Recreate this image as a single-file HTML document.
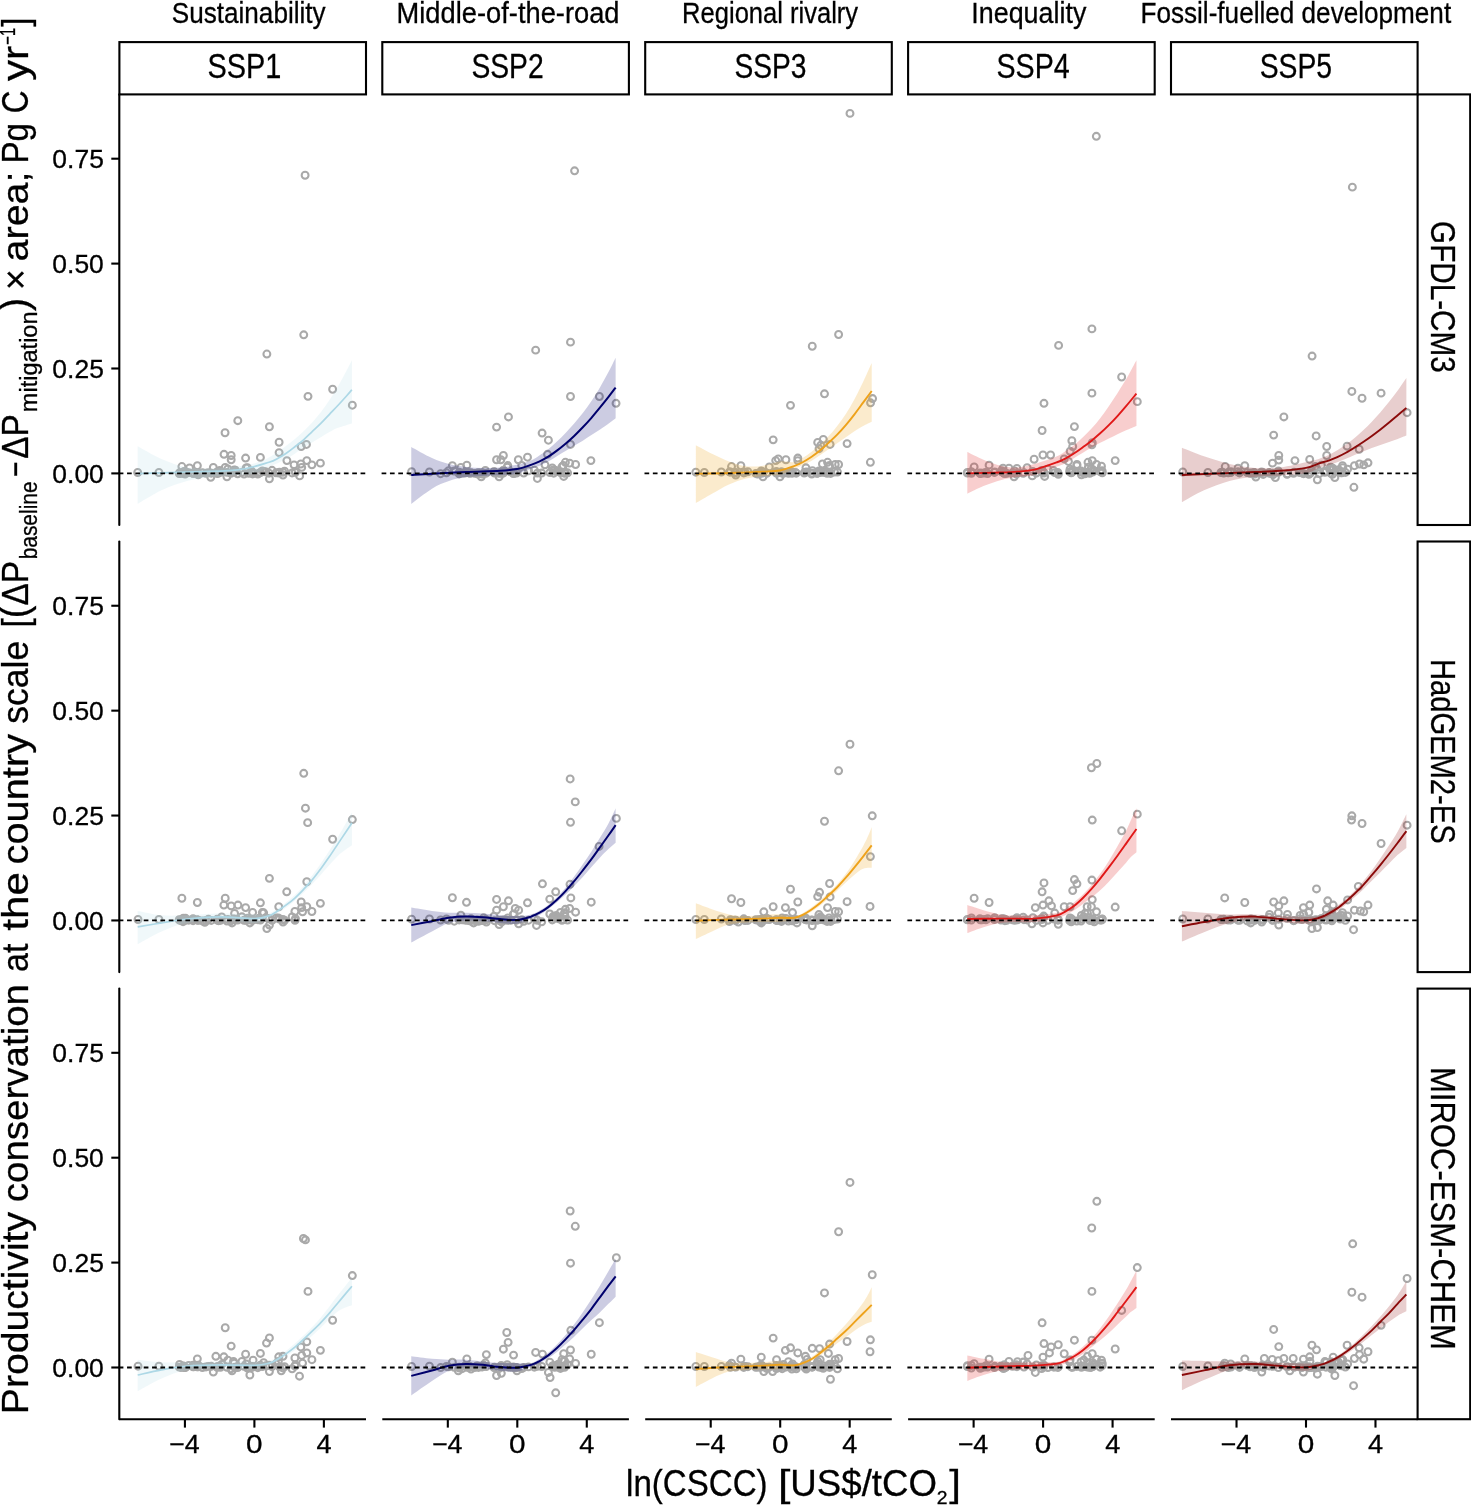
<!DOCTYPE html>
<html lang="en"><head><meta charset="utf-8"><title>Productivity conservation vs ln(CSCC)</title>
<style>html,body{margin:0;padding:0;background:#fff}svg{display:block;will-change:transform}text{font-family:"Liberation Sans",sans-serif;fill:#000;stroke:#000;stroke-width:0.3px}</style></head><body>
<svg width="1471" height="1505" viewBox="0 0 1471 1505">
<rect width="1471" height="1505" fill="#fff"/>
<g>
<g fill="none" stroke="#a9a9a9" stroke-width="2.05"><circle cx="305.1" cy="175.25" r="3.45"/><circle cx="303.74" cy="334.84" r="3.45"/><circle cx="266.86" cy="354.04" r="3.45"/><circle cx="332.63" cy="389.23" r="3.45"/><circle cx="307.99" cy="396.36" r="3.45"/><circle cx="352.34" cy="405.2" r="3.45"/><circle cx="237.8" cy="420.67" r="3.45"/><circle cx="269.41" cy="426.78" r="3.45"/><circle cx="225.05" cy="432.73" r="3.45"/><circle cx="279.1" cy="442.25" r="3.45"/><circle cx="306.46" cy="444.46" r="3.45"/><circle cx="301.19" cy="446.5" r="3.45"/><circle cx="279.1" cy="452.62" r="3.45"/><circle cx="224.03" cy="454.32" r="3.45"/><circle cx="231.17" cy="455.51" r="3.45"/><circle cx="231.17" cy="459.76" r="3.45"/><circle cx="245.61" cy="458.06" r="3.45"/><circle cx="260.4" cy="457.38" r="3.45"/><circle cx="286.91" cy="460.61" r="3.45"/><circle cx="306.8" cy="460.61" r="3.45"/><circle cx="320.39" cy="463.15" r="3.45"/><circle cx="311.9" cy="464.85" r="3.45"/><circle cx="300.85" cy="464" r="3.45"/><circle cx="294.05" cy="464.85" r="3.45"/><circle cx="301.7" cy="467.4" r="3.45"/><circle cx="181.88" cy="466.55" r="3.45"/><circle cx="189.53" cy="467.91" r="3.45"/><circle cx="197.35" cy="465.7" r="3.45"/><circle cx="213.32" cy="467.4" r="3.45"/><circle cx="225.22" cy="467.4" r="3.45"/><circle cx="137.69" cy="472.5" r="3.45"/><circle cx="158.94" cy="472.5" r="3.45"/><circle cx="210.77" cy="477.26" r="3.45"/><circle cx="226.92" cy="476.75" r="3.45"/><circle cx="269.41" cy="478.79" r="3.45"/><circle cx="299.66" cy="475.9" r="3.45"/><circle cx="283" cy="475.05" r="3.45"/><circle cx="221.7" cy="472.02" r="3.45"/><circle cx="198.05" cy="473.03" r="3.45"/><circle cx="260.4" cy="472.52" r="3.45"/><circle cx="185.59" cy="471.68" r="3.45"/><circle cx="247.37" cy="467.68" r="3.45"/><circle cx="226.99" cy="472.39" r="3.45"/><circle cx="183.05" cy="473.07" r="3.45"/><circle cx="244.06" cy="474.11" r="3.45"/><circle cx="179.2" cy="473.49" r="3.45"/><circle cx="235.31" cy="470.21" r="3.45"/><circle cx="185.15" cy="474.09" r="3.45"/><circle cx="188.67" cy="472.62" r="3.45"/><circle cx="234.21" cy="470.01" r="3.45"/><circle cx="279.46" cy="472.22" r="3.45"/><circle cx="193.95" cy="473.14" r="3.45"/><circle cx="208.39" cy="472.75" r="3.45"/><circle cx="257.78" cy="474.04" r="3.45"/><circle cx="292.09" cy="472.95" r="3.45"/><circle cx="252.09" cy="472.69" r="3.45"/><circle cx="230.82" cy="473.35" r="3.45"/><circle cx="295.02" cy="471.48" r="3.45"/><circle cx="180.95" cy="473.29" r="3.45"/><circle cx="282.8" cy="472.27" r="3.45"/><circle cx="217.28" cy="473.63" r="3.45"/><circle cx="197.07" cy="473.29" r="3.45"/><circle cx="193.02" cy="473.37" r="3.45"/><circle cx="219.73" cy="470.57" r="3.45"/><circle cx="278.33" cy="472.96" r="3.45"/><circle cx="202.42" cy="472.79" r="3.45"/><circle cx="252.61" cy="473.92" r="3.45"/><circle cx="259.06" cy="473.21" r="3.45"/><circle cx="227.82" cy="468.97" r="3.45"/><circle cx="248.74" cy="473.37" r="3.45"/><circle cx="183.91" cy="471.55" r="3.45"/><circle cx="183.34" cy="473.1" r="3.45"/><circle cx="205.99" cy="473.22" r="3.45"/><circle cx="263.66" cy="471.58" r="3.45"/><circle cx="234.58" cy="471.82" r="3.45"/><circle cx="220.46" cy="471.85" r="3.45"/><circle cx="253.06" cy="473.15" r="3.45"/><circle cx="237.66" cy="473.83" r="3.45"/><circle cx="218.61" cy="473.1" r="3.45"/><circle cx="276.01" cy="472.82" r="3.45"/><circle cx="265.7" cy="471.8" r="3.45"/><circle cx="211.24" cy="473.17" r="3.45"/><circle cx="251.79" cy="471.29" r="3.45"/><circle cx="246.13" cy="468.01" r="3.45"/><circle cx="284.55" cy="471.22" r="3.45"/><circle cx="269.02" cy="473.21" r="3.45"/><circle cx="217.06" cy="471.87" r="3.45"/><circle cx="295.42" cy="472.36" r="3.45"/><circle cx="193.06" cy="473.24" r="3.45"/><circle cx="233.44" cy="471.85" r="3.45"/><circle cx="272.02" cy="470.33" r="3.45"/><circle cx="198.22" cy="474.89" r="3.45"/><circle cx="241.9" cy="472.39" r="3.45"/><circle cx="179.54" cy="472.84" r="3.45"/><circle cx="262.31" cy="471.01" r="3.45"/></g>
<path d="M137.69,446.16C141.66,448.28 153.27,455.36 161.49,458.91C169.7,462.45 178.48,465.79 186.98,467.4C195.48,469.02 203.98,468.79 212.47,468.59C220.97,468.39 230.89,467.12 237.97,466.21C245.05,465.31 249.79,464.6 254.96,463.15C260.13,461.7 263.78,460.4 269,457.51C274.22,454.63 280.51,450.24 286.27,445.85C292.03,441.47 297.79,436.79 303.54,431.17C309.3,425.56 315.06,419.66 320.81,412.18C326.57,404.69 332.9,394.91 338.08,386.27C343.27,377.63 349.6,364.68 351.9,360.36L351.9,423.4C349.6,424.12 341.83,426.28 338.08,427.72C334.34,429.16 332.33,430.45 329.45,432.04C326.57,433.62 323.69,435.49 320.81,437.22C317.93,438.95 315.06,440.67 312.18,442.4C309.3,444.13 306.42,445.71 303.54,447.58C300.66,449.45 297.79,451.76 294.91,453.63C292.03,455.5 289.15,457.23 286.27,458.81C283.39,460.39 280.51,461.83 277.64,463.13C274.76,464.42 272.78,464.88 269,466.58C265.22,468.28 260.13,471.94 254.96,473.35C249.79,474.76 245.05,474.48 237.97,475.05C230.89,475.62 220.97,475.76 212.47,476.75C203.98,477.74 195.48,478.73 186.98,481C178.48,483.27 169.7,486.52 161.49,490.35C153.27,494.17 141.66,501.68 137.69,503.94Z" fill="#add8e6" fill-opacity="0.19"/>
<path d="M137.69,473.69C145.91,473.41 170.27,472.62 186.98,471.99C203.69,471.37 224.3,471.57 237.97,469.95C251.64,468.33 262.39,464.19 269,462.26C275.61,460.33 274.76,459.89 277.64,458.38C280.51,456.87 283.39,455.14 286.27,453.2C289.15,451.25 292.03,448.95 294.91,446.72C297.79,444.49 300.66,442.33 303.54,439.81C306.42,437.29 309.3,434.34 312.18,431.61C315.06,428.87 317.93,426.28 320.81,423.4C323.69,420.52 326.57,417.36 329.45,414.34C332.33,411.31 335.21,408.36 338.08,405.27C340.96,402.17 344.42,398.36 346.72,395.77C349.02,393.18 351.04,390.73 351.9,389.72" fill="none" stroke="#add8e6" stroke-width="1.7"/>
<line x1="118.7" y1="473.4" x2="366" y2="473.4" stroke="#000" stroke-width="1.8" stroke-dasharray="4.7 3.64"/>
</g>
<g>
<g fill="none" stroke="#a9a9a9" stroke-width="2.05"><circle cx="303.74" cy="773.34" r="3.45"/><circle cx="305.44" cy="808.18" r="3.45"/><circle cx="307.65" cy="822.63" r="3.45"/><circle cx="352.34" cy="819.57" r="3.45"/><circle cx="332.63" cy="839.28" r="3.45"/><circle cx="269.41" cy="878.37" r="3.45"/><circle cx="306.8" cy="881.77" r="3.45"/><circle cx="286.74" cy="891.8" r="3.45"/><circle cx="181.88" cy="898.26" r="3.45"/><circle cx="197.35" cy="902.51" r="3.45"/><circle cx="225.22" cy="898.26" r="3.45"/><circle cx="223.86" cy="905.06" r="3.45"/><circle cx="231.17" cy="905.91" r="3.45"/><circle cx="237.97" cy="905.06" r="3.45"/><circle cx="260.4" cy="902.85" r="3.45"/><circle cx="301.19" cy="902" r="3.45"/><circle cx="320.39" cy="903.36" r="3.45"/><circle cx="278.76" cy="906.76" r="3.45"/><circle cx="306.8" cy="906.76" r="3.45"/><circle cx="301.7" cy="907.61" r="3.45"/><circle cx="245.61" cy="907.61" r="3.45"/><circle cx="311.9" cy="911.51" r="3.45"/><circle cx="294.9" cy="911.51" r="3.45"/><circle cx="302.55" cy="911.85" r="3.45"/><circle cx="266.86" cy="928.51" r="3.45"/><circle cx="269.41" cy="925.11" r="3.45"/><circle cx="138.03" cy="919.5" r="3.45"/><circle cx="158.94" cy="919.5" r="3.45"/><circle cx="204.83" cy="922.39" r="3.45"/><circle cx="232.02" cy="922.9" r="3.45"/><circle cx="249.86" cy="922.9" r="3.45"/><circle cx="283" cy="922.05" r="3.45"/><circle cx="221.7" cy="917.03" r="3.45"/><circle cx="198.05" cy="920.31" r="3.45"/><circle cx="260.4" cy="920.02" r="3.45"/><circle cx="185.59" cy="918.31" r="3.45"/><circle cx="247.37" cy="918.2" r="3.45"/><circle cx="226.99" cy="921.12" r="3.45"/><circle cx="183.05" cy="921.67" r="3.45"/><circle cx="244.06" cy="920.26" r="3.45"/><circle cx="179.2" cy="919.66" r="3.45"/><circle cx="235.31" cy="919.74" r="3.45"/><circle cx="185.15" cy="920.34" r="3.45"/><circle cx="188.67" cy="920.17" r="3.45"/><circle cx="234.21" cy="919.04" r="3.45"/><circle cx="279.46" cy="919.09" r="3.45"/><circle cx="193.95" cy="919.76" r="3.45"/><circle cx="208.39" cy="919.31" r="3.45"/><circle cx="257.78" cy="919.71" r="3.45"/><circle cx="292.09" cy="916.92" r="3.45"/><circle cx="252.09" cy="919.46" r="3.45"/><circle cx="230.82" cy="920.82" r="3.45"/><circle cx="295.02" cy="920.37" r="3.45"/><circle cx="180.95" cy="920.28" r="3.45"/><circle cx="282.8" cy="919.41" r="3.45"/><circle cx="217.28" cy="920.21" r="3.45"/><circle cx="197.07" cy="919.8" r="3.45"/><circle cx="193.02" cy="918.77" r="3.45"/><circle cx="219.73" cy="919.9" r="3.45"/><circle cx="278.33" cy="917.88" r="3.45"/><circle cx="202.42" cy="920.96" r="3.45"/><circle cx="252.61" cy="912.41" r="3.45"/><circle cx="259.06" cy="918.28" r="3.45"/><circle cx="227.82" cy="919.39" r="3.45"/><circle cx="248.74" cy="919.91" r="3.45"/><circle cx="183.91" cy="920.16" r="3.45"/><circle cx="183.34" cy="918.18" r="3.45"/><circle cx="205.99" cy="920.54" r="3.45"/><circle cx="263.66" cy="912.8" r="3.45"/><circle cx="234.58" cy="913.47" r="3.45"/><circle cx="220.46" cy="920.38" r="3.45"/><circle cx="253.06" cy="920.04" r="3.45"/><circle cx="237.66" cy="920.14" r="3.45"/><circle cx="218.61" cy="920.7" r="3.45"/><circle cx="276.01" cy="917.96" r="3.45"/><circle cx="265.7" cy="917.62" r="3.45"/><circle cx="211.24" cy="920.43" r="3.45"/><circle cx="251.79" cy="920.43" r="3.45"/><circle cx="246.13" cy="920.24" r="3.45"/><circle cx="284.55" cy="920.34" r="3.45"/><circle cx="269.02" cy="918.76" r="3.45"/><circle cx="217.06" cy="919.33" r="3.45"/><circle cx="295.42" cy="918.77" r="3.45"/><circle cx="193.06" cy="920.65" r="3.45"/><circle cx="233.44" cy="919.12" r="3.45"/><circle cx="272.02" cy="920.36" r="3.45"/><circle cx="198.22" cy="920.12" r="3.45"/><circle cx="241.9" cy="916.81" r="3.45"/><circle cx="179.54" cy="920.15" r="3.45"/><circle cx="262.31" cy="912.57" r="3.45"/></g>
<path d="M137.69,911C141.66,911.71 153.27,914.54 161.49,915.25C169.7,915.96 177.07,915.54 186.98,915.25C196.89,914.97 209.64,913.69 220.97,913.55C232.3,913.41 246.96,914.4 254.96,914.4C262.97,914.41 263.78,915.59 269,913.58C274.22,911.57 280.51,906.96 286.27,902.35C292.03,897.75 297.79,892.42 303.54,885.95C309.3,879.47 315.06,871.7 320.81,863.49C326.57,855.29 332.9,845.22 338.08,836.72C343.27,828.23 349.6,816.57 351.9,812.54L351.9,845.36C349.6,847.09 343.27,850.83 338.08,855.72C332.9,860.62 326.57,868.53 320.81,874.72C315.06,880.91 309.3,887.39 303.54,892.85C297.79,898.32 292.03,903.43 286.27,907.54C280.51,911.64 274.22,914.91 269,917.47C263.78,920.03 262.97,922.42 254.96,922.9C246.96,923.38 232.3,920.35 220.97,920.35C209.64,920.35 196.89,921.06 186.98,922.9C177.07,924.74 169.7,927.86 161.49,931.4C153.27,934.94 141.66,942.02 137.69,944.14Z" fill="#add8e6" fill-opacity="0.19"/>
<path d="M137.69,926.81C141.66,926.16 153.27,924.2 161.49,922.9C169.7,921.6 177.07,919.98 186.98,918.99C196.89,918 209.64,917.01 220.97,916.95C232.3,916.9 246.96,918.85 254.96,918.65C262.97,918.45 265.22,917.02 269,915.74C272.78,914.46 274.76,912.79 277.64,910.99C280.51,909.19 283.39,907.1 286.27,904.94C289.15,902.79 292.03,900.63 294.91,898.04C297.79,895.45 300.66,892.42 303.54,889.4C306.42,886.38 309.3,883.36 312.18,879.9C315.06,876.45 317.93,872.56 320.81,868.68C323.69,864.79 326.57,860.76 329.45,856.59C332.33,852.41 335.21,847.95 338.08,843.63C340.96,839.31 344.42,834.13 346.72,830.68C349.02,827.22 351.04,824.2 351.9,822.91" fill="none" stroke="#add8e6" stroke-width="1.7"/>
<line x1="118.7" y1="920.45" x2="366" y2="920.45" stroke="#000" stroke-width="1.8" stroke-dasharray="4.7 3.64"/>
</g>
<g>
<g fill="none" stroke="#a9a9a9" stroke-width="2.05"><circle cx="303.4" cy="1238.53" r="3.45"/><circle cx="305.44" cy="1239.89" r="3.45"/><circle cx="352.34" cy="1275.58" r="3.45"/><circle cx="307.99" cy="1291.38" r="3.45"/><circle cx="332.63" cy="1320.27" r="3.45"/><circle cx="225.22" cy="1327.75" r="3.45"/><circle cx="269.41" cy="1337.95" r="3.45"/><circle cx="266.52" cy="1343.05" r="3.45"/><circle cx="231.17" cy="1346.11" r="3.45"/><circle cx="306.8" cy="1341.86" r="3.45"/><circle cx="300.85" cy="1346.96" r="3.45"/><circle cx="320.39" cy="1350.36" r="3.45"/><circle cx="306.8" cy="1352.91" r="3.45"/><circle cx="260.4" cy="1353.42" r="3.45"/><circle cx="245.61" cy="1354.27" r="3.45"/><circle cx="215.87" cy="1356.3" r="3.45"/><circle cx="223.86" cy="1356.81" r="3.45"/><circle cx="197.35" cy="1358.85" r="3.45"/><circle cx="301.7" cy="1355.45" r="3.45"/><circle cx="294.9" cy="1358" r="3.45"/><circle cx="311.9" cy="1359.7" r="3.45"/><circle cx="278.76" cy="1356.81" r="3.45"/><circle cx="283" cy="1356.3" r="3.45"/><circle cx="302.55" cy="1363.1" r="3.45"/><circle cx="299.49" cy="1376.19" r="3.45"/><circle cx="249.86" cy="1375" r="3.45"/><circle cx="213.32" cy="1372.11" r="3.45"/><circle cx="269.41" cy="1371.6" r="3.45"/><circle cx="281.3" cy="1370.75" r="3.45"/><circle cx="232.02" cy="1370.75" r="3.45"/><circle cx="138.03" cy="1366.16" r="3.45"/><circle cx="158.94" cy="1366.16" r="3.45"/><circle cx="221.7" cy="1364.39" r="3.45"/><circle cx="198.05" cy="1366.87" r="3.45"/><circle cx="260.4" cy="1365.34" r="3.45"/><circle cx="185.59" cy="1367.41" r="3.45"/><circle cx="247.37" cy="1367.97" r="3.45"/><circle cx="226.99" cy="1367.24" r="3.45"/><circle cx="183.05" cy="1366.17" r="3.45"/><circle cx="244.06" cy="1366.29" r="3.45"/><circle cx="179.2" cy="1367.11" r="3.45"/><circle cx="235.31" cy="1367.34" r="3.45"/><circle cx="185.15" cy="1367.46" r="3.45"/><circle cx="188.67" cy="1365.46" r="3.45"/><circle cx="234.21" cy="1363.23" r="3.45"/><circle cx="279.46" cy="1366.81" r="3.45"/><circle cx="193.95" cy="1366.65" r="3.45"/><circle cx="208.39" cy="1366.39" r="3.45"/><circle cx="257.78" cy="1367.7" r="3.45"/><circle cx="292.09" cy="1368.78" r="3.45"/><circle cx="252.09" cy="1366.54" r="3.45"/><circle cx="230.82" cy="1368.72" r="3.45"/><circle cx="295.02" cy="1366.18" r="3.45"/><circle cx="180.95" cy="1367.43" r="3.45"/><circle cx="282.8" cy="1367.91" r="3.45"/><circle cx="217.28" cy="1367.27" r="3.45"/><circle cx="197.07" cy="1366.83" r="3.45"/><circle cx="193.02" cy="1366.86" r="3.45"/><circle cx="219.73" cy="1366.11" r="3.45"/><circle cx="278.33" cy="1361.44" r="3.45"/><circle cx="202.42" cy="1367.59" r="3.45"/><circle cx="252.61" cy="1367.19" r="3.45"/><circle cx="259.06" cy="1366.41" r="3.45"/><circle cx="227.82" cy="1360.21" r="3.45"/><circle cx="248.74" cy="1367.28" r="3.45"/><circle cx="183.91" cy="1367.48" r="3.45"/><circle cx="183.34" cy="1365.88" r="3.45"/><circle cx="205.99" cy="1366.92" r="3.45"/><circle cx="263.66" cy="1362.76" r="3.45"/><circle cx="234.58" cy="1367.35" r="3.45"/><circle cx="220.46" cy="1367.36" r="3.45"/><circle cx="253.06" cy="1360.18" r="3.45"/><circle cx="237.66" cy="1367.51" r="3.45"/><circle cx="218.61" cy="1366.35" r="3.45"/><circle cx="276.01" cy="1363.9" r="3.45"/><circle cx="265.7" cy="1365.79" r="3.45"/><circle cx="211.24" cy="1366.3" r="3.45"/><circle cx="251.79" cy="1367.16" r="3.45"/><circle cx="246.13" cy="1363.96" r="3.45"/><circle cx="284.55" cy="1366.67" r="3.45"/><circle cx="269.02" cy="1365.33" r="3.45"/><circle cx="217.06" cy="1366.8" r="3.45"/><circle cx="295.42" cy="1364.82" r="3.45"/><circle cx="193.06" cy="1365.29" r="3.45"/><circle cx="233.44" cy="1361.53" r="3.45"/><circle cx="272.02" cy="1366.71" r="3.45"/><circle cx="198.22" cy="1365.16" r="3.45"/><circle cx="241.9" cy="1361.47" r="3.45"/><circle cx="179.54" cy="1364.5" r="3.45"/><circle cx="262.31" cy="1366.47" r="3.45"/></g>
<path d="M137.69,1359.7C141.66,1360.13 153.27,1361.83 161.49,1362.25C169.7,1362.68 177.07,1362.39 186.98,1362.25C196.89,1362.11 209.64,1361.54 220.97,1361.4C232.3,1361.26 246.96,1361.47 254.96,1361.4C262.97,1361.34 263.78,1362.8 269,1361.01C274.22,1359.22 280.51,1354.9 286.27,1350.65C292.03,1346.4 297.79,1341.08 303.54,1335.54C309.3,1330 315.06,1324.17 320.81,1317.4C326.57,1310.64 332.9,1301.57 338.08,1294.95C343.27,1288.33 349.6,1280.56 351.9,1277.68L351.9,1305.31C349.6,1306.32 343.27,1307.62 338.08,1311.36C332.9,1315.1 326.57,1322.44 320.81,1327.77C315.06,1333.09 309.3,1338.56 303.54,1343.31C297.79,1348.06 292.03,1352.66 286.27,1356.26C280.51,1359.86 274.22,1362.77 269,1364.9C263.78,1367.03 262.97,1368.5 254.96,1369.05C246.96,1369.6 232.3,1368.06 220.97,1368.2C209.64,1368.34 196.89,1368.2 186.98,1369.9C177.07,1371.6 169.7,1374.86 161.49,1378.4C153.27,1381.94 141.66,1389.02 137.69,1391.14Z" fill="#add8e6" fill-opacity="0.19"/>
<path d="M137.69,1375C141.66,1374.15 153.27,1371.4 161.49,1369.9C169.7,1368.4 177.07,1366.84 186.98,1365.99C196.89,1365.14 209.64,1364.92 220.97,1364.8C232.3,1364.69 246.96,1365.58 254.96,1365.31C262.97,1365.04 265.22,1364.18 269,1363.17C272.78,1362.17 274.76,1360.87 277.64,1359.28C280.51,1357.7 283.39,1355.69 286.27,1353.67C289.15,1351.66 292.03,1349.57 294.91,1347.2C297.79,1344.82 300.66,1342.09 303.54,1339.42C306.42,1336.76 309.3,1334.03 312.18,1331.22C315.06,1328.41 317.93,1325.61 320.81,1322.58C323.69,1319.56 326.57,1316.39 329.45,1313.08C332.33,1309.77 335.21,1306.18 338.08,1302.72C340.96,1299.27 344.42,1295.09 346.72,1292.36C349.02,1289.62 351.04,1287.32 351.9,1286.31" fill="none" stroke="#add8e6" stroke-width="1.7"/>
<line x1="118.7" y1="1367.5" x2="366" y2="1367.5" stroke="#000" stroke-width="1.8" stroke-dasharray="4.7 3.64"/>
</g>
<g>
<g fill="none" stroke="#a9a9a9" stroke-width="2.05"><circle cx="574.58" cy="170.84" r="3.45"/><circle cx="570.5" cy="342.15" r="3.45"/><circle cx="535.66" cy="350.14" r="3.45"/><circle cx="570.5" cy="396.53" r="3.45"/><circle cx="599.39" cy="396.53" r="3.45"/><circle cx="616.04" cy="403.33" r="3.45"/><circle cx="508.46" cy="416.93" r="3.45"/><circle cx="496.57" cy="427.12" r="3.45"/><circle cx="542.11" cy="433.07" r="3.45"/><circle cx="548.4" cy="440.21" r="3.45"/><circle cx="570.5" cy="444.46" r="3.45"/><circle cx="547.55" cy="454.32" r="3.45"/><circle cx="503.37" cy="455.51" r="3.45"/><circle cx="496.57" cy="459.76" r="3.45"/><circle cx="500.82" cy="459.76" r="3.45"/><circle cx="518.32" cy="459.76" r="3.45"/><circle cx="527.5" cy="457.21" r="3.45"/><circle cx="590.89" cy="460.61" r="3.45"/><circle cx="575.6" cy="464.51" r="3.45"/><circle cx="565.4" cy="462.3" r="3.45"/><circle cx="569.65" cy="463.15" r="3.45"/><circle cx="545" cy="464.85" r="3.45"/><circle cx="452.38" cy="465.7" r="3.45"/><circle cx="466.83" cy="465.19" r="3.45"/><circle cx="460.88" cy="467.4" r="3.45"/><circle cx="411.59" cy="471.65" r="3.45"/><circle cx="429.44" cy="471.99" r="3.45"/><circle cx="537.36" cy="478.45" r="3.45"/><circle cx="563.7" cy="476.41" r="3.45"/><circle cx="481.27" cy="476.75" r="3.45"/><circle cx="499.12" cy="476.75" r="3.45"/><circle cx="501.03" cy="472.17" r="3.45"/><circle cx="470.98" cy="472.8" r="3.45"/><circle cx="470.15" cy="473.36" r="3.45"/><circle cx="476.76" cy="473.14" r="3.45"/><circle cx="558.26" cy="471.35" r="3.45"/><circle cx="513.35" cy="473.51" r="3.45"/><circle cx="478.45" cy="472.68" r="3.45"/><circle cx="558.3" cy="471.64" r="3.45"/><circle cx="567.59" cy="472.8" r="3.45"/><circle cx="507.77" cy="465.56" r="3.45"/><circle cx="466.86" cy="472.23" r="3.45"/><circle cx="474.58" cy="473.38" r="3.45"/><circle cx="459.17" cy="472.32" r="3.45"/><circle cx="494.5" cy="473.11" r="3.45"/><circle cx="459.23" cy="473.92" r="3.45"/><circle cx="481.06" cy="472.87" r="3.45"/><circle cx="483.65" cy="473.18" r="3.45"/><circle cx="521.74" cy="465.49" r="3.45"/><circle cx="556.31" cy="471.59" r="3.45"/><circle cx="541.71" cy="473.06" r="3.45"/><circle cx="503.28" cy="473.2" r="3.45"/><circle cx="503.42" cy="470.19" r="3.45"/><circle cx="516.51" cy="472.98" r="3.45"/><circle cx="498.87" cy="473.34" r="3.45"/><circle cx="494.03" cy="471.42" r="3.45"/><circle cx="454.28" cy="471.01" r="3.45"/><circle cx="486.19" cy="473.2" r="3.45"/><circle cx="564.64" cy="473.37" r="3.45"/><circle cx="464.77" cy="473" r="3.45"/><circle cx="514.09" cy="473.4" r="3.45"/><circle cx="528.52" cy="470.73" r="3.45"/><circle cx="553.76" cy="473.17" r="3.45"/><circle cx="477.89" cy="474.12" r="3.45"/><circle cx="485.34" cy="470.43" r="3.45"/><circle cx="482.32" cy="474.03" r="3.45"/><circle cx="501.69" cy="473.12" r="3.45"/><circle cx="507.28" cy="467.3" r="3.45"/><circle cx="563.23" cy="465.59" r="3.45"/><circle cx="552.27" cy="467.94" r="3.45"/><circle cx="554.81" cy="470.17" r="3.45"/><circle cx="446.46" cy="472.77" r="3.45"/><circle cx="448.65" cy="470.75" r="3.45"/><circle cx="537.35" cy="473.12" r="3.45"/><circle cx="557.2" cy="471.05" r="3.45"/><circle cx="510.54" cy="471.77" r="3.45"/><circle cx="523.74" cy="473.01" r="3.45"/><circle cx="440.61" cy="473.7" r="3.45"/><circle cx="500.68" cy="473.12" r="3.45"/><circle cx="560.43" cy="472.62" r="3.45"/><circle cx="549.83" cy="472.61" r="3.45"/><circle cx="552.98" cy="470" r="3.45"/><circle cx="565.11" cy="472.32" r="3.45"/><circle cx="482.32" cy="473.27" r="3.45"/><circle cx="462.13" cy="473.06" r="3.45"/><circle cx="469.08" cy="472.94" r="3.45"/><circle cx="516.3" cy="472.15" r="3.45"/><circle cx="534.34" cy="470.17" r="3.45"/><circle cx="561.95" cy="466.8" r="3.45"/></g>
<path d="M411.25,447.01C414.71,448.85 425.7,455.22 431.99,458.06C438.27,460.89 443.32,462.53 448.98,464C454.65,465.48 460.31,466.24 465.98,466.89C471.64,467.54 477.31,467.83 482.97,467.91C488.64,468 494.3,467.91 499.97,467.4C505.63,466.89 511.79,466 516.96,464.85C522.13,463.71 527.22,462.12 531,460.54C534.78,458.95 536.76,457.23 539.64,455.35C542.51,453.48 545.39,451.61 548.27,449.31C551.15,447.01 554.03,444.27 556.91,441.54C559.79,438.8 562.66,435.92 565.54,432.9C568.42,429.88 571.3,426.71 574.18,423.4C577.06,420.09 579.93,416.78 582.81,413.04C585.69,409.3 588.57,405.27 591.45,400.95C594.33,396.63 597.21,392.03 600.08,387.13C602.96,382.24 606.13,376.48 608.72,371.59C611.31,366.7 614.48,360.07 615.63,357.77L615.63,418.22C614.48,419.08 611.31,421.53 608.72,423.4C606.13,425.27 602.96,427.5 600.08,429.45C597.21,431.39 594.33,433.19 591.45,435.06C588.57,436.93 585.69,438.87 582.81,440.67C579.93,442.47 577.06,444.13 574.18,445.85C571.3,447.58 568.42,449.31 565.54,451.04C562.66,452.76 559.79,454.49 556.91,456.22C554.03,457.94 551.15,459.82 548.27,461.4C545.39,462.98 542.51,464.49 539.64,465.72C536.76,466.94 534.78,467.41 531,468.74C527.22,470.07 522.13,472.64 516.96,473.69C511.79,474.74 505.63,474.68 499.97,475.05C494.3,475.42 488.64,475.56 482.97,475.9C477.31,476.24 471.64,476.24 465.98,477.09C460.31,477.94 454.65,479.07 448.98,481C443.32,482.93 438.27,484.82 431.99,488.65C425.7,492.47 414.71,501.39 411.25,503.94Z" fill="#00006c" fill-opacity="0.2"/>
<path d="M411.25,475.05C414.71,474.82 422.86,474.2 431.99,473.69C441.11,473.18 454.65,472.47 465.98,471.99C477.31,471.51 491.47,471.28 499.97,470.8C508.46,470.32 511.79,470.09 516.96,469.1C522.13,468.11 527.22,466.14 531,464.85C534.78,463.57 536.76,462.77 539.64,461.4C542.51,460.03 545.39,458.45 548.27,456.65C551.15,454.85 554.03,452.76 556.91,450.6C559.79,448.45 562.66,446.14 565.54,443.7C568.42,441.25 571.3,438.66 574.18,435.92C577.06,433.19 579.93,430.31 582.81,427.29C585.69,424.27 588.57,421.1 591.45,417.79C594.33,414.48 597.21,410.95 600.08,407.43C602.96,403.9 606.13,399.94 608.72,396.63C611.31,393.32 614.48,389.08 615.63,387.56" fill="none" stroke="#00006c" stroke-width="2.0"/>
<line x1="381.6" y1="473.4" x2="628.9" y2="473.4" stroke="#000" stroke-width="1.8" stroke-dasharray="4.7 3.64"/>
</g>
<g>
<g fill="none" stroke="#a9a9a9" stroke-width="2.05"><circle cx="570.16" cy="778.95" r="3.45"/><circle cx="575.26" cy="801.89" r="3.45"/><circle cx="570.5" cy="822.29" r="3.45"/><circle cx="616.38" cy="818.38" r="3.45"/><circle cx="599.05" cy="846.42" r="3.45"/><circle cx="542.45" cy="883.81" r="3.45"/><circle cx="569.99" cy="884.32" r="3.45"/><circle cx="555.71" cy="891.8" r="3.45"/><circle cx="452.38" cy="897.75" r="3.45"/><circle cx="466.49" cy="902.34" r="3.45"/><circle cx="496.57" cy="899.45" r="3.45"/><circle cx="508.46" cy="900.81" r="3.45"/><circle cx="527.5" cy="902.85" r="3.45"/><circle cx="549.76" cy="899.11" r="3.45"/><circle cx="570.84" cy="897.92" r="3.45"/><circle cx="591.23" cy="902.17" r="3.45"/><circle cx="503.37" cy="906.76" r="3.45"/><circle cx="496.57" cy="910.15" r="3.45"/><circle cx="515.26" cy="908.45" r="3.45"/><circle cx="518.66" cy="910.15" r="3.45"/><circle cx="569.65" cy="908.45" r="3.45"/><circle cx="565.4" cy="909.3" r="3.45"/><circle cx="575.6" cy="912.19" r="3.45"/><circle cx="564.55" cy="912.7" r="3.45"/><circle cx="411.59" cy="919.16" r="3.45"/><circle cx="429.44" cy="918.99" r="3.45"/><circle cx="473.62" cy="922.9" r="3.45"/><circle cx="486.37" cy="922.05" r="3.45"/><circle cx="499.12" cy="924.6" r="3.45"/><circle cx="518.66" cy="923.75" r="3.45"/><circle cx="536.51" cy="925.45" r="3.45"/><circle cx="460.88" cy="915.25" r="3.45"/><circle cx="501.03" cy="921.18" r="3.45"/><circle cx="470.98" cy="918.84" r="3.45"/><circle cx="470.15" cy="920.9" r="3.45"/><circle cx="476.76" cy="920.32" r="3.45"/><circle cx="558.26" cy="917.51" r="3.45"/><circle cx="513.35" cy="914.11" r="3.45"/><circle cx="478.45" cy="921.36" r="3.45"/><circle cx="558.3" cy="918.65" r="3.45"/><circle cx="567.59" cy="920.11" r="3.45"/><circle cx="507.77" cy="917.9" r="3.45"/><circle cx="466.86" cy="920.23" r="3.45"/><circle cx="474.58" cy="920.61" r="3.45"/><circle cx="459.17" cy="919.96" r="3.45"/><circle cx="494.5" cy="920.7" r="3.45"/><circle cx="459.23" cy="919.31" r="3.45"/><circle cx="481.06" cy="920.12" r="3.45"/><circle cx="483.65" cy="917.81" r="3.45"/><circle cx="521.74" cy="919.64" r="3.45"/><circle cx="556.31" cy="915.5" r="3.45"/><circle cx="541.71" cy="921.83" r="3.45"/><circle cx="503.28" cy="919.91" r="3.45"/><circle cx="503.42" cy="920.33" r="3.45"/><circle cx="516.51" cy="919.67" r="3.45"/><circle cx="498.87" cy="920.36" r="3.45"/><circle cx="494.03" cy="916.2" r="3.45"/><circle cx="454.28" cy="921.2" r="3.45"/><circle cx="486.19" cy="919.42" r="3.45"/><circle cx="564.64" cy="914" r="3.45"/><circle cx="464.77" cy="919.97" r="3.45"/><circle cx="514.09" cy="914.04" r="3.45"/><circle cx="528.52" cy="920.2" r="3.45"/><circle cx="553.76" cy="917.19" r="3.45"/><circle cx="477.89" cy="919.98" r="3.45"/><circle cx="485.34" cy="920.17" r="3.45"/><circle cx="482.32" cy="920.41" r="3.45"/><circle cx="501.69" cy="921.73" r="3.45"/><circle cx="507.28" cy="920.33" r="3.45"/><circle cx="563.23" cy="919.49" r="3.45"/><circle cx="552.27" cy="919.91" r="3.45"/><circle cx="554.81" cy="917.18" r="3.45"/><circle cx="446.46" cy="919.01" r="3.45"/><circle cx="448.65" cy="920.25" r="3.45"/><circle cx="537.35" cy="920.34" r="3.45"/><circle cx="557.2" cy="917.65" r="3.45"/><circle cx="510.54" cy="920.37" r="3.45"/><circle cx="523.74" cy="921.22" r="3.45"/><circle cx="440.61" cy="919.98" r="3.45"/><circle cx="500.68" cy="920.31" r="3.45"/><circle cx="560.43" cy="912.44" r="3.45"/><circle cx="549.83" cy="914.02" r="3.45"/><circle cx="552.98" cy="916.57" r="3.45"/><circle cx="565.11" cy="916.35" r="3.45"/><circle cx="482.32" cy="920.22" r="3.45"/><circle cx="462.13" cy="919.76" r="3.45"/><circle cx="469.08" cy="920.41" r="3.45"/><circle cx="516.3" cy="920.28" r="3.45"/><circle cx="534.34" cy="918.38" r="3.45"/><circle cx="561.95" cy="920.33" r="3.45"/></g>
<path d="M411.25,907.61C414.71,908.17 425.7,910.15 431.99,911C438.27,911.85 443.32,912.42 448.98,912.7C454.65,912.99 460.31,912.56 465.98,912.7C471.64,912.85 477.31,913.13 482.97,913.55C488.64,913.98 494.3,914.83 499.97,915.25C505.63,915.68 511.79,916.24 516.96,916.1C522.13,915.97 527.22,915.37 531,914.44C534.78,913.52 536.76,912.14 539.64,910.56C542.51,908.97 545.39,907.18 548.27,904.94C551.15,902.71 554.03,900.05 556.91,897.17C559.79,894.29 562.66,891.13 565.54,887.67C568.42,884.22 571.3,880.33 574.18,876.45C577.06,872.56 579.93,868.53 582.81,864.36C585.69,860.18 588.57,855.87 591.45,851.4C594.33,846.94 597.21,842.34 600.08,837.59C602.96,832.84 606.13,827.8 608.72,822.91C611.31,818.01 614.48,810.67 615.63,808.23L615.63,842.77C614.48,843.78 611.31,846.37 608.72,848.81C606.13,851.26 602.96,854.43 600.08,857.45C597.21,860.47 594.33,863.71 591.45,866.95C588.57,870.19 585.69,873.71 582.81,876.88C579.93,880.05 577.06,883 574.18,885.95C571.3,888.9 568.42,891.85 565.54,894.58C562.66,897.32 559.79,899.91 556.91,902.35C554.03,904.8 551.15,907.18 548.27,909.26C545.39,911.35 542.51,913.29 539.64,914.88C536.76,916.46 534.78,917.28 531,918.76C527.22,920.24 522.13,923.06 516.96,923.75C511.79,924.44 505.63,923.33 499.97,922.9C494.3,922.48 488.64,921.57 482.97,921.2C477.31,920.83 471.64,920.41 465.98,920.69C460.31,920.97 454.65,921.12 448.98,922.9C443.32,924.69 438.27,928.14 431.99,931.4C425.7,934.66 414.71,940.6 411.25,942.45Z" fill="#00006c" fill-opacity="0.2"/>
<path d="M411.25,925.11C414.71,924.46 425.7,922.42 431.99,921.2C438.27,919.98 443.32,918.57 448.98,917.8C454.65,917.04 460.31,916.7 465.98,916.61C471.64,916.53 477.31,916.9 482.97,917.29C488.64,917.69 494.3,918.54 499.97,918.99C505.63,919.45 511.79,920.41 516.96,920.01C522.13,919.61 527.22,917.82 531,916.6C534.78,915.39 536.76,914.3 539.64,912.72C542.51,911.13 545.39,909.26 548.27,907.1C551.15,904.94 554.03,902.43 556.91,899.76C559.79,897.1 562.66,894.22 565.54,891.13C568.42,888.03 571.3,884.65 574.18,881.2C577.06,877.74 579.93,874.07 582.81,870.4C585.69,866.73 588.57,863.06 591.45,859.18C594.33,855.29 597.21,851.12 600.08,847.09C602.96,843.06 606.13,838.67 608.72,835C611.31,831.33 614.48,826.72 615.63,825.07" fill="none" stroke="#00006c" stroke-width="2.0"/>
<line x1="381.6" y1="920.45" x2="628.9" y2="920.45" stroke="#000" stroke-width="1.8" stroke-dasharray="4.7 3.64"/>
</g>
<g>
<g fill="none" stroke="#a9a9a9" stroke-width="2.05"><circle cx="570.16" cy="1211" r="3.45"/><circle cx="575.26" cy="1226.29" r="3.45"/><circle cx="616.38" cy="1257.73" r="3.45"/><circle cx="570.5" cy="1263.17" r="3.45"/><circle cx="599.39" cy="1322.65" r="3.45"/><circle cx="506.76" cy="1332.51" r="3.45"/><circle cx="570.84" cy="1330.3" r="3.45"/><circle cx="508.12" cy="1342.37" r="3.45"/><circle cx="503.37" cy="1349.17" r="3.45"/><circle cx="486.37" cy="1354.61" r="3.45"/><circle cx="535.66" cy="1352.4" r="3.45"/><circle cx="542.45" cy="1354.1" r="3.45"/><circle cx="513.56" cy="1355.11" r="3.45"/><circle cx="570.5" cy="1350.02" r="3.45"/><circle cx="563.7" cy="1353.76" r="3.45"/><circle cx="591.23" cy="1354.27" r="3.45"/><circle cx="569.65" cy="1358.85" r="3.45"/><circle cx="562" cy="1359.7" r="3.45"/><circle cx="575.6" cy="1363.44" r="3.45"/><circle cx="466.83" cy="1358.85" r="3.45"/><circle cx="452.38" cy="1362.25" r="3.45"/><circle cx="458.33" cy="1370.75" r="3.45"/><circle cx="496.57" cy="1375.51" r="3.45"/><circle cx="501.33" cy="1373.3" r="3.45"/><circle cx="516.96" cy="1370.75" r="3.45"/><circle cx="550.1" cy="1377.55" r="3.45"/><circle cx="548.4" cy="1372.45" r="3.45"/><circle cx="555.71" cy="1392.84" r="3.45"/><circle cx="411.59" cy="1366.5" r="3.45"/><circle cx="429.44" cy="1366.16" r="3.45"/><circle cx="564.55" cy="1367.35" r="3.45"/><circle cx="501.03" cy="1365.59" r="3.45"/><circle cx="470.98" cy="1369.02" r="3.45"/><circle cx="470.15" cy="1366.54" r="3.45"/><circle cx="476.76" cy="1365.98" r="3.45"/><circle cx="558.26" cy="1364.2" r="3.45"/><circle cx="513.35" cy="1366.93" r="3.45"/><circle cx="478.45" cy="1367.45" r="3.45"/><circle cx="558.3" cy="1367.21" r="3.45"/><circle cx="567.59" cy="1364.61" r="3.45"/><circle cx="507.77" cy="1366.95" r="3.45"/><circle cx="466.86" cy="1367.36" r="3.45"/><circle cx="474.58" cy="1367.5" r="3.45"/><circle cx="459.17" cy="1368.05" r="3.45"/><circle cx="494.5" cy="1367.25" r="3.45"/><circle cx="459.23" cy="1367.27" r="3.45"/><circle cx="481.06" cy="1366.87" r="3.45"/><circle cx="483.65" cy="1365.06" r="3.45"/><circle cx="521.74" cy="1368.48" r="3.45"/><circle cx="556.31" cy="1365.55" r="3.45"/><circle cx="541.71" cy="1366.5" r="3.45"/><circle cx="503.28" cy="1366.5" r="3.45"/><circle cx="503.42" cy="1366.23" r="3.45"/><circle cx="516.51" cy="1367.46" r="3.45"/><circle cx="498.87" cy="1368.69" r="3.45"/><circle cx="494.03" cy="1367.49" r="3.45"/><circle cx="454.28" cy="1367.35" r="3.45"/><circle cx="486.19" cy="1366.59" r="3.45"/><circle cx="564.64" cy="1361.27" r="3.45"/><circle cx="464.77" cy="1366.05" r="3.45"/><circle cx="514.09" cy="1367.49" r="3.45"/><circle cx="528.52" cy="1366.89" r="3.45"/><circle cx="553.76" cy="1366.43" r="3.45"/><circle cx="477.89" cy="1366.18" r="3.45"/><circle cx="485.34" cy="1362.98" r="3.45"/><circle cx="482.32" cy="1366.94" r="3.45"/><circle cx="501.69" cy="1366.78" r="3.45"/><circle cx="507.28" cy="1364.69" r="3.45"/><circle cx="563.23" cy="1361.43" r="3.45"/><circle cx="552.27" cy="1366.19" r="3.45"/><circle cx="554.81" cy="1367.23" r="3.45"/><circle cx="446.46" cy="1366.44" r="3.45"/><circle cx="448.65" cy="1366.88" r="3.45"/><circle cx="537.35" cy="1366.35" r="3.45"/><circle cx="557.2" cy="1365.77" r="3.45"/><circle cx="510.54" cy="1367.28" r="3.45"/><circle cx="523.74" cy="1367.39" r="3.45"/><circle cx="440.61" cy="1367.56" r="3.45"/><circle cx="500.68" cy="1366.36" r="3.45"/><circle cx="560.43" cy="1368.4" r="3.45"/><circle cx="549.83" cy="1362.21" r="3.45"/><circle cx="552.98" cy="1365.68" r="3.45"/><circle cx="565.11" cy="1365.74" r="3.45"/><circle cx="482.32" cy="1366.53" r="3.45"/><circle cx="462.13" cy="1368.66" r="3.45"/><circle cx="469.08" cy="1367.27" r="3.45"/><circle cx="516.3" cy="1367.89" r="3.45"/><circle cx="534.34" cy="1367.17" r="3.45"/><circle cx="561.95" cy="1367.12" r="3.45"/></g>
<path d="M411.25,1356.3C414.71,1356.73 425.7,1358.29 431.99,1358.85C438.27,1359.42 443.32,1359.56 448.98,1359.7C454.65,1359.85 460.31,1359.42 465.98,1359.7C471.64,1359.99 477.31,1360.84 482.97,1361.4C488.64,1361.97 494.3,1362.82 499.97,1363.1C505.63,1363.39 511.79,1363.09 516.96,1363.1C522.13,1363.11 527.22,1363.88 531,1363.17C534.78,1362.46 536.76,1360.58 539.64,1358.85C542.51,1357.13 545.39,1355.18 548.27,1352.81C551.15,1350.43 554.03,1347.55 556.91,1344.6C559.79,1341.65 562.66,1338.49 565.54,1335.11C568.42,1331.72 571.3,1328.12 574.18,1324.31C577.06,1320.5 579.93,1316.39 582.81,1312.22C585.69,1308.05 588.57,1303.73 591.45,1299.27C594.33,1294.81 597.21,1290.2 600.08,1285.45C602.96,1280.7 606.13,1275.23 608.72,1270.77C611.31,1266.31 614.48,1260.7 615.63,1258.68L615.63,1296.68C614.48,1297.83 611.31,1300.99 608.72,1303.59C606.13,1306.18 602.96,1309.49 600.08,1312.22C597.21,1314.96 594.33,1317.33 591.45,1319.99C588.57,1322.66 585.69,1325.39 582.81,1328.2C579.93,1331 577.06,1334.1 574.18,1336.83C571.3,1339.57 568.42,1342.09 565.54,1344.6C562.66,1347.12 559.79,1349.71 556.91,1351.94C554.03,1354.18 551.15,1356.12 548.27,1357.99C545.39,1359.86 542.51,1361.73 539.64,1363.17C536.76,1364.61 534.78,1365.22 531,1366.63C527.22,1368.03 522.13,1370.91 516.96,1371.6C511.79,1372.29 505.63,1371.32 499.97,1370.75C494.3,1370.18 488.64,1368.77 482.97,1368.2C477.31,1367.63 471.64,1366.93 465.98,1367.35C460.31,1367.78 454.65,1368.48 448.98,1370.75C443.32,1373.02 438.27,1376.84 431.99,1380.95C425.7,1385.05 414.71,1392.99 411.25,1395.39Z" fill="#00006c" fill-opacity="0.2"/>
<path d="M411.25,1375.85C414.71,1374.94 425.7,1372.11 431.99,1370.41C438.27,1368.71 443.32,1366.73 448.98,1365.65C454.65,1364.58 460.31,1364.09 465.98,1363.95C471.64,1363.81 477.31,1364.29 482.97,1364.8C488.64,1365.31 494.3,1366.53 499.97,1367.01C505.63,1367.49 511.79,1368.04 516.96,1367.69C522.13,1367.34 527.22,1366.01 531,1364.9C534.78,1363.78 536.76,1362.6 539.64,1361.01C542.51,1359.43 545.39,1357.56 548.27,1355.4C551.15,1353.24 554.03,1350.72 556.91,1348.06C559.79,1345.4 562.66,1342.45 565.54,1339.42C568.42,1336.4 571.3,1333.23 574.18,1329.92C577.06,1326.61 579.93,1323.09 582.81,1319.56C585.69,1316.04 588.57,1312.51 591.45,1308.77C594.33,1305.02 597.21,1300.99 600.08,1297.11C602.96,1293.22 606.13,1288.91 608.72,1285.45C611.31,1282 614.48,1277.89 615.63,1276.38" fill="none" stroke="#00006c" stroke-width="2.0"/>
<line x1="381.6" y1="1367.5" x2="628.9" y2="1367.5" stroke="#000" stroke-width="1.8" stroke-dasharray="4.7 3.64"/>
</g>
<g>
<g fill="none" stroke="#a9a9a9" stroke-width="2.05"><circle cx="849.98" cy="113.39" r="3.45"/><circle cx="838.6" cy="334.5" r="3.45"/><circle cx="812.25" cy="346.23" r="3.45"/><circle cx="824.49" cy="393.81" r="3.45"/><circle cx="790.5" cy="405.37" r="3.45"/><circle cx="872.59" cy="398.57" r="3.45"/><circle cx="870.55" cy="402.82" r="3.45"/><circle cx="773.16" cy="439.87" r="3.45"/><circle cx="823.3" cy="439.36" r="3.45"/><circle cx="817.69" cy="442.42" r="3.45"/><circle cx="820.75" cy="445.31" r="3.45"/><circle cx="819.05" cy="448.71" r="3.45"/><circle cx="830.1" cy="444.46" r="3.45"/><circle cx="847.09" cy="443.61" r="3.45"/><circle cx="870.38" cy="462.3" r="3.45"/><circle cx="778.26" cy="458.91" r="3.45"/><circle cx="775.71" cy="460.61" r="3.45"/><circle cx="785.91" cy="459.76" r="3.45"/><circle cx="797.81" cy="458.06" r="3.45"/><circle cx="797.81" cy="460.61" r="3.45"/><circle cx="731.53" cy="466.55" r="3.45"/><circle cx="740.87" cy="465.7" r="3.45"/><circle cx="827.55" cy="462.3" r="3.45"/><circle cx="822.45" cy="464" r="3.45"/><circle cx="835.2" cy="464.51" r="3.45"/><circle cx="838.6" cy="464.51" r="3.45"/><circle cx="695.84" cy="472.16" r="3.45"/><circle cx="704.33" cy="472.5" r="3.45"/><circle cx="721.33" cy="471.99" r="3.45"/><circle cx="762.97" cy="476.75" r="3.45"/><circle cx="779.96" cy="476.75" r="3.45"/><circle cx="735.77" cy="475.05" r="3.45"/><circle cx="804.17" cy="473.01" r="3.45"/><circle cx="735.83" cy="472.35" r="3.45"/><circle cx="783.42" cy="473.22" r="3.45"/><circle cx="785.89" cy="472.56" r="3.45"/><circle cx="818.88" cy="470.94" r="3.45"/><circle cx="776.32" cy="471.38" r="3.45"/><circle cx="812.46" cy="470.72" r="3.45"/><circle cx="796.24" cy="473.19" r="3.45"/><circle cx="761.46" cy="473.29" r="3.45"/><circle cx="827.09" cy="473.29" r="3.45"/><circle cx="745.2" cy="472.13" r="3.45"/><circle cx="823.21" cy="471.72" r="3.45"/><circle cx="755.79" cy="473.37" r="3.45"/><circle cx="729.52" cy="471.91" r="3.45"/><circle cx="759.71" cy="472.72" r="3.45"/><circle cx="817.87" cy="472.79" r="3.45"/><circle cx="837.48" cy="472.11" r="3.45"/><circle cx="730.4" cy="472.08" r="3.45"/><circle cx="791.49" cy="473.14" r="3.45"/><circle cx="791.56" cy="471.98" r="3.45"/><circle cx="821.09" cy="472.3" r="3.45"/><circle cx="757.56" cy="474.04" r="3.45"/><circle cx="791.87" cy="471.95" r="3.45"/><circle cx="776.37" cy="473.12" r="3.45"/><circle cx="824.32" cy="472.46" r="3.45"/><circle cx="766.65" cy="473.2" r="3.45"/><circle cx="834.46" cy="471.97" r="3.45"/><circle cx="769.3" cy="467.02" r="3.45"/><circle cx="761.24" cy="470.92" r="3.45"/><circle cx="811.97" cy="473.29" r="3.45"/><circle cx="792.25" cy="472.19" r="3.45"/><circle cx="747.86" cy="471.74" r="3.45"/><circle cx="805.94" cy="467.82" r="3.45"/><circle cx="743.75" cy="472.91" r="3.45"/><circle cx="820.27" cy="472.11" r="3.45"/><circle cx="811.75" cy="474.04" r="3.45"/><circle cx="820.18" cy="471.91" r="3.45"/><circle cx="805.11" cy="472.1" r="3.45"/><circle cx="777.29" cy="473.16" r="3.45"/><circle cx="782.19" cy="473.17" r="3.45"/><circle cx="781.48" cy="471.83" r="3.45"/><circle cx="829.65" cy="472.6" r="3.45"/><circle cx="744.52" cy="472.41" r="3.45"/><circle cx="829.47" cy="465.38" r="3.45"/><circle cx="734.78" cy="472.97" r="3.45"/><circle cx="760.2" cy="473.09" r="3.45"/><circle cx="766.95" cy="473.11" r="3.45"/><circle cx="830.63" cy="473.46" r="3.45"/><circle cx="792.54" cy="473.05" r="3.45"/><circle cx="779.84" cy="472.42" r="3.45"/><circle cx="829.07" cy="466.65" r="3.45"/><circle cx="763.49" cy="471.94" r="3.45"/><circle cx="788.42" cy="473.31" r="3.45"/><circle cx="795.61" cy="472.57" r="3.45"/><circle cx="817.15" cy="473.25" r="3.45"/><circle cx="817.01" cy="472.98" r="3.45"/><circle cx="806.89" cy="471.91" r="3.45"/><circle cx="776.51" cy="472.49" r="3.45"/></g>
<path d="M695.84,445.31C698.53,446.73 706.46,451.12 711.98,453.81C717.5,456.5 723.31,459.39 728.98,461.45C734.64,463.52 740.31,465.51 745.97,466.21C751.64,466.92 757.3,466.5 762.97,465.7C768.63,464.91 774.79,462.03 779.96,461.45C785.13,460.88 790.22,462.85 794,462.26C797.78,461.68 799.76,459.67 802.64,457.94C805.51,456.22 808.39,454.06 811.27,451.9C814.15,449.74 817.03,447.58 819.91,444.99C822.79,442.4 825.66,439.52 828.54,436.36C831.42,433.19 834.3,429.74 837.18,425.99C840.06,422.25 842.93,418.36 845.81,413.9C848.69,409.44 851.57,404.55 854.45,399.22C857.33,393.9 860.93,386.41 863.08,381.95C865.24,377.49 865.96,375.62 867.4,372.45C868.84,369.29 871,364.54 871.72,362.95L871.72,421.68C870.28,422.39 865.96,424.41 863.08,425.99C860.21,427.58 857.33,429.3 854.45,431.17C851.57,433.05 848.69,435.2 845.81,437.22C842.93,439.23 840.06,441.25 837.18,443.26C834.3,445.28 831.42,447.29 828.54,449.31C825.66,451.32 822.79,453.41 819.91,455.35C817.03,457.3 814.15,459.31 811.27,460.97C808.39,462.62 805.51,463.99 802.64,465.28C799.76,466.58 797.78,467.17 794,468.74C790.22,470.31 785.13,473.52 779.96,474.71C774.79,475.9 768.63,475.28 762.97,475.9C757.3,476.52 751.64,477.03 745.97,478.45C740.31,479.87 734.64,481.85 728.98,484.4C723.31,486.95 717.5,490.63 711.98,493.75C706.46,496.86 698.53,501.54 695.84,503.09Z" fill="#eea21b" fill-opacity="0.22"/>
<path d="M695.84,473.69C701.36,473.58 717.79,473.35 728.98,473.01C740.16,472.67 754.47,472.08 762.97,471.65C771.46,471.23 774.79,471.38 779.96,470.46C785.13,469.55 790.22,467.52 794,466.15C797.78,464.78 799.76,463.77 802.64,462.26C805.51,460.75 808.39,459.02 811.27,457.08C814.15,455.14 817.03,452.98 819.91,450.6C822.79,448.23 825.66,445.5 828.54,442.83C831.42,440.17 834.3,437.58 837.18,434.63C840.06,431.68 842.93,428.51 845.81,425.13C848.69,421.75 851.57,418.08 854.45,414.34C857.33,410.59 860.21,406.56 863.08,402.68C865.96,398.79 870.28,392.96 871.72,391.02" fill="none" stroke="#eea21b" stroke-width="1.9"/>
<line x1="644.5" y1="473.4" x2="891.8" y2="473.4" stroke="#000" stroke-width="1.8" stroke-dasharray="4.7 3.64"/>
</g>
<g>
<g fill="none" stroke="#a9a9a9" stroke-width="2.05"><circle cx="849.98" cy="744.28" r="3.45"/><circle cx="838.6" cy="770.79" r="3.45"/><circle cx="872.25" cy="815.83" r="3.45"/><circle cx="824.49" cy="821.27" r="3.45"/><circle cx="870.38" cy="856.62" r="3.45"/><circle cx="829.59" cy="883.47" r="3.45"/><circle cx="790.5" cy="889.25" r="3.45"/><circle cx="819.56" cy="892.31" r="3.45"/><circle cx="817.69" cy="896.56" r="3.45"/><circle cx="830.1" cy="896.9" r="3.45"/><circle cx="731.53" cy="898.77" r="3.45"/><circle cx="740.87" cy="902.51" r="3.45"/><circle cx="797.81" cy="902" r="3.45"/><circle cx="847.09" cy="901.66" r="3.45"/><circle cx="870.04" cy="906.42" r="3.45"/><circle cx="773.16" cy="906.76" r="3.45"/><circle cx="785.4" cy="907.61" r="3.45"/><circle cx="763.82" cy="911.85" r="3.45"/><circle cx="827.55" cy="907.61" r="3.45"/><circle cx="835.2" cy="911.51" r="3.45"/><circle cx="838.6" cy="911.85" r="3.45"/><circle cx="812.25" cy="925.79" r="3.45"/><circle cx="796.96" cy="922.9" r="3.45"/><circle cx="695.84" cy="919.5" r="3.45"/><circle cx="704.33" cy="919.5" r="3.45"/><circle cx="721.33" cy="918.99" r="3.45"/><circle cx="761.27" cy="922.9" r="3.45"/><circle cx="738.32" cy="922.05" r="3.45"/><circle cx="804.17" cy="918.39" r="3.45"/><circle cx="735.83" cy="920.23" r="3.45"/><circle cx="783.42" cy="919.71" r="3.45"/><circle cx="785.89" cy="918.54" r="3.45"/><circle cx="818.88" cy="914.55" r="3.45"/><circle cx="776.32" cy="919.78" r="3.45"/><circle cx="812.46" cy="920.44" r="3.45"/><circle cx="796.24" cy="919.65" r="3.45"/><circle cx="761.46" cy="919.99" r="3.45"/><circle cx="827.09" cy="921.42" r="3.45"/><circle cx="745.2" cy="920.42" r="3.45"/><circle cx="823.21" cy="919.34" r="3.45"/><circle cx="755.79" cy="919.75" r="3.45"/><circle cx="729.52" cy="921.55" r="3.45"/><circle cx="759.71" cy="919.5" r="3.45"/><circle cx="817.87" cy="918.61" r="3.45"/><circle cx="837.48" cy="919.05" r="3.45"/><circle cx="730.4" cy="919.66" r="3.45"/><circle cx="791.49" cy="920.11" r="3.45"/><circle cx="791.56" cy="919.77" r="3.45"/><circle cx="821.09" cy="917.48" r="3.45"/><circle cx="757.56" cy="920.08" r="3.45"/><circle cx="791.87" cy="919.59" r="3.45"/><circle cx="776.37" cy="920.41" r="3.45"/><circle cx="824.32" cy="920.1" r="3.45"/><circle cx="766.65" cy="918.16" r="3.45"/><circle cx="834.46" cy="919.41" r="3.45"/><circle cx="769.3" cy="919.52" r="3.45"/><circle cx="761.24" cy="919.57" r="3.45"/><circle cx="811.97" cy="920.21" r="3.45"/><circle cx="792.25" cy="920.73" r="3.45"/><circle cx="747.86" cy="920.41" r="3.45"/><circle cx="805.94" cy="918.23" r="3.45"/><circle cx="743.75" cy="918.82" r="3.45"/><circle cx="820.27" cy="917.01" r="3.45"/><circle cx="811.75" cy="919.9" r="3.45"/><circle cx="820.18" cy="919.48" r="3.45"/><circle cx="805.11" cy="919.62" r="3.45"/><circle cx="777.29" cy="920.44" r="3.45"/><circle cx="782.19" cy="918" r="3.45"/><circle cx="781.48" cy="921.44" r="3.45"/><circle cx="829.65" cy="920.41" r="3.45"/><circle cx="744.52" cy="920.32" r="3.45"/><circle cx="829.47" cy="920.3" r="3.45"/><circle cx="734.78" cy="920.18" r="3.45"/><circle cx="760.2" cy="921.63" r="3.45"/><circle cx="766.95" cy="919.25" r="3.45"/><circle cx="830.63" cy="921.41" r="3.45"/><circle cx="792.54" cy="912.58" r="3.45"/><circle cx="779.84" cy="920.47" r="3.45"/><circle cx="829.07" cy="917.91" r="3.45"/><circle cx="763.49" cy="920.27" r="3.45"/><circle cx="788.42" cy="921.01" r="3.45"/><circle cx="795.61" cy="919.62" r="3.45"/><circle cx="817.15" cy="920.3" r="3.45"/><circle cx="817.01" cy="919.45" r="3.45"/><circle cx="806.89" cy="919.97" r="3.45"/><circle cx="776.51" cy="919.96" r="3.45"/></g>
<path d="M695.84,903.36C698.53,904.35 706.46,907.46 711.98,909.3C717.5,911.15 723.31,913.27 728.98,914.4C734.64,915.54 740.31,915.96 745.97,916.1C751.64,916.24 757.3,915.54 762.97,915.25C768.63,914.97 774.79,914.18 779.96,914.4C785.13,914.63 790.22,916.81 794,916.6C797.78,916.39 799.76,914.66 802.64,913.15C805.51,911.64 808.39,909.62 811.27,907.54C814.15,905.45 817.03,903.07 819.91,900.63C822.79,898.18 825.66,895.59 828.54,892.85C831.42,890.12 834.3,887.39 837.18,884.22C840.06,881.05 842.93,877.74 845.81,873.86C848.69,869.97 851.57,865.51 854.45,860.9C857.33,856.3 860.93,850.11 863.08,846.22C865.24,842.34 865.96,840.75 867.4,837.59C868.84,834.42 871,828.95 871.72,827.22L871.72,867.81C870.28,867.96 865.96,867.52 863.08,868.68C860.21,869.83 857.33,872.42 854.45,874.72C851.57,877.02 848.69,879.83 845.81,882.49C842.93,885.15 840.06,888.03 837.18,890.7C834.3,893.36 831.42,895.95 828.54,898.47C825.66,900.99 822.79,903.58 819.91,905.81C817.03,908.04 814.15,910.05 811.27,911.85C808.39,913.65 805.51,915.31 802.64,916.6C799.76,917.9 797.78,918.77 794,919.63C790.22,920.48 785.13,921.31 779.96,921.71C774.79,922.12 768.63,921.94 762.97,922.05C757.3,922.16 751.64,921.97 745.97,922.39C740.31,922.82 734.64,923.1 728.98,924.6C723.31,926.1 717.5,928.99 711.98,931.4C706.46,933.81 698.53,937.77 695.84,939.05Z" fill="#eea21b" fill-opacity="0.22"/>
<path d="M695.84,920.69C701.36,920.49 717.79,919.84 728.98,919.5C740.16,919.16 754.47,918.94 762.97,918.65C771.46,918.37 774.79,917.93 779.96,917.8C785.13,917.68 790.22,918.39 794,917.9C797.78,917.41 799.76,916.24 802.64,914.88C805.51,913.51 808.39,911.64 811.27,909.69C814.15,907.75 817.03,905.59 819.91,903.22C822.79,900.84 825.66,898.11 828.54,895.45C831.42,892.78 834.3,890.19 837.18,887.24C840.06,884.29 842.93,881.05 845.81,877.74C848.69,874.43 851.57,870.91 854.45,867.38C857.33,863.85 860.21,860.26 863.08,856.59C865.96,852.92 870.28,847.23 871.72,845.36" fill="none" stroke="#eea21b" stroke-width="1.9"/>
<line x1="644.5" y1="920.45" x2="891.8" y2="920.45" stroke="#000" stroke-width="1.8" stroke-dasharray="4.7 3.64"/>
</g>
<g>
<g fill="none" stroke="#a9a9a9" stroke-width="2.05"><circle cx="849.98" cy="1182.44" r="3.45"/><circle cx="838.6" cy="1231.73" r="3.45"/><circle cx="872.25" cy="1274.73" r="3.45"/><circle cx="824.49" cy="1292.91" r="3.45"/><circle cx="773.16" cy="1338.12" r="3.45"/><circle cx="870.38" cy="1339.82" r="3.45"/><circle cx="870.04" cy="1351.72" r="3.45"/><circle cx="847.09" cy="1341.52" r="3.45"/><circle cx="829.59" cy="1344.07" r="3.45"/><circle cx="790.5" cy="1347.81" r="3.45"/><circle cx="785.4" cy="1350.36" r="3.45"/><circle cx="812.25" cy="1348.32" r="3.45"/><circle cx="819.56" cy="1348.66" r="3.45"/><circle cx="797.81" cy="1352.91" r="3.45"/><circle cx="805.45" cy="1356.3" r="3.45"/><circle cx="828.4" cy="1353.42" r="3.45"/><circle cx="761.27" cy="1357.15" r="3.45"/><circle cx="740.87" cy="1359.19" r="3.45"/><circle cx="731.53" cy="1363.1" r="3.45"/><circle cx="776.56" cy="1359.7" r="3.45"/><circle cx="835.2" cy="1359.7" r="3.45"/><circle cx="838.6" cy="1358.51" r="3.45"/><circle cx="830.44" cy="1379.25" r="3.45"/><circle cx="763.82" cy="1371.6" r="3.45"/><circle cx="772.65" cy="1371.6" r="3.45"/><circle cx="806.3" cy="1369.05" r="3.45"/><circle cx="695.84" cy="1366.5" r="3.45"/><circle cx="704.33" cy="1366.5" r="3.45"/><circle cx="721.33" cy="1366.5" r="3.45"/><circle cx="804.17" cy="1364.55" r="3.45"/><circle cx="735.83" cy="1367.1" r="3.45"/><circle cx="783.42" cy="1364.48" r="3.45"/><circle cx="785.89" cy="1367.14" r="3.45"/><circle cx="818.88" cy="1367.04" r="3.45"/><circle cx="776.32" cy="1365.35" r="3.45"/><circle cx="812.46" cy="1366.96" r="3.45"/><circle cx="796.24" cy="1368.77" r="3.45"/><circle cx="761.46" cy="1365.92" r="3.45"/><circle cx="827.09" cy="1366.67" r="3.45"/><circle cx="745.2" cy="1366.39" r="3.45"/><circle cx="823.21" cy="1368.35" r="3.45"/><circle cx="755.79" cy="1367.28" r="3.45"/><circle cx="729.52" cy="1365.11" r="3.45"/><circle cx="759.71" cy="1366.59" r="3.45"/><circle cx="817.87" cy="1361.37" r="3.45"/><circle cx="837.48" cy="1368.73" r="3.45"/><circle cx="730.4" cy="1367.24" r="3.45"/><circle cx="791.49" cy="1365.42" r="3.45"/><circle cx="791.56" cy="1365.93" r="3.45"/><circle cx="821.09" cy="1367.3" r="3.45"/><circle cx="757.56" cy="1367" r="3.45"/><circle cx="791.87" cy="1369.03" r="3.45"/><circle cx="776.37" cy="1368.47" r="3.45"/><circle cx="824.32" cy="1366.03" r="3.45"/><circle cx="766.65" cy="1367.55" r="3.45"/><circle cx="834.46" cy="1364.2" r="3.45"/><circle cx="769.3" cy="1367.2" r="3.45"/><circle cx="761.24" cy="1364.95" r="3.45"/><circle cx="811.97" cy="1367.19" r="3.45"/><circle cx="792.25" cy="1367.08" r="3.45"/><circle cx="747.86" cy="1366.71" r="3.45"/><circle cx="805.94" cy="1366.9" r="3.45"/><circle cx="743.75" cy="1367.43" r="3.45"/><circle cx="820.27" cy="1366.57" r="3.45"/><circle cx="811.75" cy="1366.51" r="3.45"/><circle cx="820.18" cy="1359.62" r="3.45"/><circle cx="805.11" cy="1367.89" r="3.45"/><circle cx="777.29" cy="1367.07" r="3.45"/><circle cx="782.19" cy="1368.7" r="3.45"/><circle cx="781.48" cy="1366.31" r="3.45"/><circle cx="829.65" cy="1367.44" r="3.45"/><circle cx="744.52" cy="1366.41" r="3.45"/><circle cx="829.47" cy="1364.33" r="3.45"/><circle cx="734.78" cy="1366.86" r="3.45"/><circle cx="760.2" cy="1367.23" r="3.45"/><circle cx="766.95" cy="1368.6" r="3.45"/><circle cx="830.63" cy="1364.95" r="3.45"/><circle cx="792.54" cy="1363.85" r="3.45"/><circle cx="779.84" cy="1367.4" r="3.45"/><circle cx="829.07" cy="1366.54" r="3.45"/><circle cx="763.49" cy="1366.87" r="3.45"/><circle cx="788.42" cy="1361.68" r="3.45"/><circle cx="795.61" cy="1366.72" r="3.45"/><circle cx="817.15" cy="1365.29" r="3.45"/><circle cx="817.01" cy="1363.49" r="3.45"/><circle cx="806.89" cy="1359.52" r="3.45"/><circle cx="776.51" cy="1367.44" r="3.45"/></g>
<path d="M695.84,1352.06C698.53,1352.91 706.46,1355.45 711.98,1357.15C717.5,1358.85 723.31,1361.26 728.98,1362.25C734.64,1363.24 740.31,1363.1 745.97,1363.1C751.64,1363.1 757.3,1362.54 762.97,1362.25C768.63,1361.97 774.79,1361.11 779.96,1361.4C785.13,1361.7 790.22,1364.03 794,1364.03C797.78,1364.04 799.76,1362.6 802.64,1361.44C805.51,1360.29 808.39,1359 811.27,1357.13C814.15,1355.26 817.03,1352.66 819.91,1350.22C822.79,1347.77 825.66,1345.18 828.54,1342.45C831.42,1339.71 834.3,1336.83 837.18,1333.81C840.06,1330.79 842.93,1327.62 845.81,1324.31C848.69,1321 851.57,1317.55 854.45,1313.95C857.33,1310.35 860.93,1305.74 863.08,1302.72C865.24,1299.7 865.96,1298.4 867.4,1295.81C868.84,1293.22 871,1288.62 871.72,1287.18L871.72,1321.72C870.28,1322.3 865.96,1323.66 863.08,1325.17C860.21,1326.69 857.33,1328.77 854.45,1330.79C851.57,1332.8 848.69,1335.18 845.81,1337.26C842.93,1339.35 840.06,1341.22 837.18,1343.31C834.3,1345.4 831.42,1347.7 828.54,1349.79C825.66,1351.87 822.79,1353.96 819.91,1355.83C817.03,1357.7 814.15,1359.57 811.27,1361.01C808.39,1362.45 805.51,1363.53 802.64,1364.47C799.76,1365.4 797.78,1365.86 794,1366.63C790.22,1367.39 785.13,1368.59 779.96,1369.05C774.79,1369.51 768.63,1369.25 762.97,1369.39C757.3,1369.53 751.64,1369.53 745.97,1369.9C740.31,1370.27 734.64,1370.18 728.98,1371.6C723.31,1373.02 717.5,1375.85 711.98,1378.4C706.46,1380.95 698.53,1385.48 695.84,1386.9Z" fill="#eea21b" fill-opacity="0.22"/>
<path d="M695.84,1369.05C701.36,1368.71 717.79,1367.58 728.98,1367.01C740.16,1366.45 754.47,1366.02 762.97,1365.65C771.46,1365.28 774.79,1364.86 779.96,1364.8C785.13,1364.75 790.22,1365.6 794,1365.33C797.78,1365.06 799.76,1364.18 802.64,1363.17C805.51,1362.16 808.39,1360.94 811.27,1359.28C814.15,1357.63 817.03,1355.4 819.91,1353.24C822.79,1351.08 825.66,1348.78 828.54,1346.33C831.42,1343.88 834.3,1341.15 837.18,1338.56C840.06,1335.97 842.93,1333.52 845.81,1330.79C848.69,1328.05 851.57,1325.03 854.45,1322.15C857.33,1319.27 860.21,1316.39 863.08,1313.52C865.96,1310.64 870.28,1306.32 871.72,1304.88" fill="none" stroke="#eea21b" stroke-width="1.9"/>
<line x1="644.5" y1="1367.5" x2="891.8" y2="1367.5" stroke="#000" stroke-width="1.8" stroke-dasharray="4.7 3.64"/>
</g>
<g>
<g fill="none" stroke="#a9a9a9" stroke-width="2.05"><circle cx="1096.33" cy="136.34" r="3.45"/><circle cx="1091.91" cy="328.89" r="3.45"/><circle cx="1058.6" cy="345.38" r="3.45"/><circle cx="1121.65" cy="376.99" r="3.45"/><circle cx="1091.91" cy="393.13" r="3.45"/><circle cx="1137.29" cy="401.63" r="3.45"/><circle cx="1043.98" cy="403.33" r="3.45"/><circle cx="1042.11" cy="430.52" r="3.45"/><circle cx="1074.4" cy="426.61" r="3.45"/><circle cx="1071.85" cy="440.72" r="3.45"/><circle cx="1072.7" cy="446.5" r="3.45"/><circle cx="1070.15" cy="451.26" r="3.45"/><circle cx="1092.25" cy="442.76" r="3.45"/><circle cx="1091.91" cy="444.8" r="3.45"/><circle cx="1042.96" cy="455" r="3.45"/><circle cx="1050.61" cy="455" r="3.45"/><circle cx="1034.12" cy="459.25" r="3.45"/><circle cx="1064.21" cy="458.91" r="3.45"/><circle cx="1068.45" cy="461.45" r="3.45"/><circle cx="1115.19" cy="460.61" r="3.45"/><circle cx="1092.25" cy="460.61" r="3.45"/><circle cx="1088" cy="462.3" r="3.45"/><circle cx="1076.95" cy="464.51" r="3.45"/><circle cx="1096.5" cy="464.51" r="3.45"/><circle cx="1102.11" cy="470.8" r="3.45"/><circle cx="1089.7" cy="473.35" r="3.45"/><circle cx="974.13" cy="466.89" r="3.45"/><circle cx="989.09" cy="465.19" r="3.45"/><circle cx="1003.02" cy="468.25" r="3.45"/><circle cx="1008.97" cy="468.25" r="3.45"/><circle cx="967.33" cy="472.5" r="3.45"/><circle cx="1014.07" cy="476.75" r="3.45"/><circle cx="1032.25" cy="475.9" r="3.45"/><circle cx="1044.66" cy="476.41" r="3.45"/><circle cx="1005.67" cy="473.1" r="3.45"/><circle cx="1041.74" cy="470.37" r="3.45"/><circle cx="1016.46" cy="474.2" r="3.45"/><circle cx="1012.45" cy="472.82" r="3.45"/><circle cx="1004.24" cy="473.27" r="3.45"/><circle cx="1027.1" cy="467.6" r="3.45"/><circle cx="1101.47" cy="466.28" r="3.45"/><circle cx="1102.24" cy="472.73" r="3.45"/><circle cx="1094.23" cy="470.85" r="3.45"/><circle cx="987.61" cy="473.55" r="3.45"/><circle cx="1016.91" cy="468.51" r="3.45"/><circle cx="1091.03" cy="468.87" r="3.45"/><circle cx="980.32" cy="473.59" r="3.45"/><circle cx="1071.77" cy="472.4" r="3.45"/><circle cx="1017.48" cy="472.89" r="3.45"/><circle cx="1100.12" cy="471.56" r="3.45"/><circle cx="971.46" cy="473.22" r="3.45"/><circle cx="1081.02" cy="470.95" r="3.45"/><circle cx="1023.96" cy="472.67" r="3.45"/><circle cx="994.71" cy="471.97" r="3.45"/><circle cx="967.4" cy="473.13" r="3.45"/><circle cx="1083.87" cy="472.84" r="3.45"/><circle cx="1047.88" cy="469.18" r="3.45"/><circle cx="1001.86" cy="470.7" r="3.45"/><circle cx="1036.37" cy="473.12" r="3.45"/><circle cx="1092.78" cy="469.87" r="3.45"/><circle cx="1006.72" cy="473.38" r="3.45"/><circle cx="1053.37" cy="470.52" r="3.45"/><circle cx="994.38" cy="472.43" r="3.45"/><circle cx="1000.99" cy="471.41" r="3.45"/><circle cx="1076.84" cy="465.56" r="3.45"/><circle cx="1070.05" cy="469.16" r="3.45"/><circle cx="1003.51" cy="472.84" r="3.45"/><circle cx="984.38" cy="473.07" r="3.45"/><circle cx="985.83" cy="472.39" r="3.45"/><circle cx="1057.86" cy="472.52" r="3.45"/><circle cx="1044.01" cy="473.09" r="3.45"/><circle cx="1014.73" cy="471" r="3.45"/><circle cx="1004.9" cy="472.89" r="3.45"/><circle cx="1058.33" cy="474.24" r="3.45"/><circle cx="1069.6" cy="471.68" r="3.45"/><circle cx="1081.53" cy="472.38" r="3.45"/><circle cx="1054.77" cy="472.63" r="3.45"/><circle cx="1004.34" cy="473.03" r="3.45"/><circle cx="981.88" cy="473.15" r="3.45"/><circle cx="1072.5" cy="470.52" r="3.45"/><circle cx="1032.87" cy="471.56" r="3.45"/><circle cx="1071.22" cy="472.74" r="3.45"/><circle cx="979.91" cy="473.06" r="3.45"/><circle cx="1081.43" cy="474.73" r="3.45"/><circle cx="1023.2" cy="473.34" r="3.45"/><circle cx="1084.96" cy="473.74" r="3.45"/><circle cx="1087.5" cy="472.11" r="3.45"/><circle cx="1043.7" cy="472.31" r="3.45"/><circle cx="971.32" cy="471.78" r="3.45"/><circle cx="1092.59" cy="472.11" r="3.45"/><circle cx="1041.64" cy="471.94" r="3.45"/><circle cx="1088.34" cy="467.15" r="3.45"/></g>
<path d="M967.33,452.11C970.02,453.38 977.96,457.49 983.48,459.76C989,462.02 994.81,464.43 1000.47,465.7C1006.14,466.98 1011.8,467.69 1017.47,467.4C1023.13,467.12 1027.88,465.87 1034.46,464C1041.05,462.14 1051.8,458.38 1057,456.22C1062.2,454.06 1062.76,452.91 1065.64,451.04C1068.51,449.17 1071.39,447.29 1074.27,444.99C1077.15,442.69 1080.03,439.95 1082.91,437.22C1085.79,434.48 1088.66,431.75 1091.54,428.58C1094.42,425.42 1097.3,421.96 1100.18,418.22C1103.06,414.48 1105.93,410.31 1108.81,406.13C1111.69,401.96 1114.57,397.64 1117.45,393.18C1120.33,388.72 1123.93,382.96 1126.08,379.36C1128.24,375.76 1128.68,374.76 1130.4,371.59C1132.13,368.42 1135.44,362.23 1136.45,360.36L1136.45,425.99C1134.72,426.71 1129.25,428.94 1126.08,430.31C1122.92,431.68 1120.33,432.83 1117.45,434.2C1114.57,435.56 1111.69,437.08 1108.81,438.51C1105.93,439.95 1103.06,441.32 1100.18,442.83C1097.3,444.34 1094.42,445.93 1091.54,447.58C1088.66,449.24 1085.79,451.04 1082.91,452.76C1080.03,454.49 1077.15,456.22 1074.27,457.94C1071.39,459.67 1068.51,461.69 1065.64,463.13C1062.76,464.57 1062.2,464.59 1057,466.58C1051.8,468.57 1041.05,473.3 1034.46,475.05C1027.88,476.8 1023.13,476.24 1017.47,477.09C1011.8,477.94 1006.14,478.65 1000.47,480.15C994.81,481.65 989,483.83 983.48,486.1C977.96,488.36 970.02,492.47 967.33,493.75Z" fill="#e01818" fill-opacity="0.21"/>
<path d="M967.33,473.35C972.86,473.21 992.12,472.78 1000.47,472.5C1008.83,472.22 1011.8,472.13 1017.47,471.65C1023.13,471.17 1027.88,471.18 1034.46,469.61C1041.05,468.05 1051.8,464.14 1057,462.26C1062.2,460.39 1062.76,459.89 1065.64,458.38C1068.51,456.87 1071.39,455.07 1074.27,453.2C1077.15,451.32 1080.03,449.24 1082.91,447.15C1085.79,445.06 1088.66,442.98 1091.54,440.67C1094.42,438.37 1097.3,435.92 1100.18,433.33C1103.06,430.74 1105.93,428.01 1108.81,425.13C1111.69,422.25 1114.57,419.23 1117.45,416.06C1120.33,412.9 1122.92,409.87 1126.08,406.13C1129.25,402.39 1134.72,395.7 1136.45,393.61" fill="none" stroke="#e01818" stroke-width="1.9"/>
<line x1="907.4" y1="473.4" x2="1154.7" y2="473.4" stroke="#000" stroke-width="1.8" stroke-dasharray="4.7 3.64"/>
</g>
<g>
<g fill="none" stroke="#a9a9a9" stroke-width="2.05"><circle cx="1096.84" cy="763.49" r="3.45"/><circle cx="1091.4" cy="767.73" r="3.45"/><circle cx="1137.29" cy="814.13" r="3.45"/><circle cx="1092.25" cy="820.08" r="3.45"/><circle cx="1121.65" cy="830.79" r="3.45"/><circle cx="1043.98" cy="882.96" r="3.45"/><circle cx="1074.4" cy="879.56" r="3.45"/><circle cx="1076.95" cy="883.81" r="3.45"/><circle cx="1091.91" cy="880.07" r="3.45"/><circle cx="1042.11" cy="891.8" r="3.45"/><circle cx="1072.7" cy="890.61" r="3.45"/><circle cx="974.13" cy="898.26" r="3.45"/><circle cx="989.09" cy="902.51" r="3.45"/><circle cx="1092.25" cy="899.62" r="3.45"/><circle cx="1048.91" cy="900.81" r="3.45"/><circle cx="1042.96" cy="905.06" r="3.45"/><circle cx="1051.46" cy="905.91" r="3.45"/><circle cx="1035.31" cy="907.61" r="3.45"/><circle cx="1064.21" cy="906.76" r="3.45"/><circle cx="1070.15" cy="906.76" r="3.45"/><circle cx="1115.19" cy="907.1" r="3.45"/><circle cx="1087.15" cy="906.76" r="3.45"/><circle cx="1091.4" cy="906.76" r="3.45"/><circle cx="1096.5" cy="911.85" r="3.45"/><circle cx="1102.11" cy="918.99" r="3.45"/><circle cx="1089.7" cy="920.35" r="3.45"/><circle cx="1058.26" cy="924.26" r="3.45"/><circle cx="1031.92" cy="923.75" r="3.45"/><circle cx="1042.96" cy="922.9" r="3.45"/><circle cx="967.33" cy="919.5" r="3.45"/><circle cx="1005.67" cy="919.78" r="3.45"/><circle cx="1041.74" cy="919.62" r="3.45"/><circle cx="1016.46" cy="918.54" r="3.45"/><circle cx="1012.45" cy="919.86" r="3.45"/><circle cx="1004.24" cy="919.22" r="3.45"/><circle cx="1027.1" cy="919.96" r="3.45"/><circle cx="1101.47" cy="920.07" r="3.45"/><circle cx="1102.24" cy="919.27" r="3.45"/><circle cx="1094.23" cy="921.86" r="3.45"/><circle cx="987.61" cy="918.71" r="3.45"/><circle cx="1016.91" cy="917.74" r="3.45"/><circle cx="1091.03" cy="920.52" r="3.45"/><circle cx="980.32" cy="919.78" r="3.45"/><circle cx="1071.77" cy="919.04" r="3.45"/><circle cx="1017.48" cy="919.74" r="3.45"/><circle cx="1100.12" cy="919.97" r="3.45"/><circle cx="971.46" cy="917.88" r="3.45"/><circle cx="1081.02" cy="921.02" r="3.45"/><circle cx="1023.96" cy="919.65" r="3.45"/><circle cx="994.71" cy="917.65" r="3.45"/><circle cx="967.4" cy="919.88" r="3.45"/><circle cx="1083.87" cy="916.99" r="3.45"/><circle cx="1047.88" cy="920.27" r="3.45"/><circle cx="1001.86" cy="918.8" r="3.45"/><circle cx="1036.37" cy="920.33" r="3.45"/><circle cx="1092.78" cy="918.83" r="3.45"/><circle cx="1006.72" cy="920.28" r="3.45"/><circle cx="1053.37" cy="918.96" r="3.45"/><circle cx="994.38" cy="919.49" r="3.45"/><circle cx="1000.99" cy="920.02" r="3.45"/><circle cx="1076.84" cy="921.08" r="3.45"/><circle cx="1070.05" cy="917.97" r="3.45"/><circle cx="1003.51" cy="918.72" r="3.45"/><circle cx="984.38" cy="919.39" r="3.45"/><circle cx="985.83" cy="919.78" r="3.45"/><circle cx="1057.86" cy="920.15" r="3.45"/><circle cx="1044.01" cy="916.97" r="3.45"/><circle cx="1014.73" cy="920.32" r="3.45"/><circle cx="1004.9" cy="920.71" r="3.45"/><circle cx="1058.33" cy="919.73" r="3.45"/><circle cx="1069.6" cy="920.47" r="3.45"/><circle cx="1081.53" cy="919.05" r="3.45"/><circle cx="1054.77" cy="913.08" r="3.45"/><circle cx="1004.34" cy="919.6" r="3.45"/><circle cx="981.88" cy="919.87" r="3.45"/><circle cx="1072.5" cy="920.39" r="3.45"/><circle cx="1032.87" cy="917.73" r="3.45"/><circle cx="1071.22" cy="921.87" r="3.45"/><circle cx="979.91" cy="918.65" r="3.45"/><circle cx="1081.43" cy="915.53" r="3.45"/><circle cx="1023.2" cy="917.27" r="3.45"/><circle cx="1084.96" cy="913.31" r="3.45"/><circle cx="1087.5" cy="913.4" r="3.45"/><circle cx="1043.7" cy="916.1" r="3.45"/><circle cx="971.32" cy="919.97" r="3.45"/><circle cx="1092.59" cy="920.38" r="3.45"/><circle cx="1041.64" cy="918.52" r="3.45"/><circle cx="1088.34" cy="917.42" r="3.45"/></g>
<path d="M967.33,905.06C970.02,905.91 977.96,908.6 983.48,910.15C989,911.71 994.81,913.5 1000.47,914.4C1006.14,915.31 1011.8,915.45 1017.47,915.59C1023.13,915.73 1027.88,915.73 1034.46,915.25C1041.05,914.77 1051.8,913.86 1057,912.72C1062.2,911.57 1062.76,910.13 1065.64,908.4C1068.51,906.67 1071.39,904.66 1074.27,902.35C1077.15,900.05 1080.03,897.46 1082.91,894.58C1085.79,891.7 1088.66,888.54 1091.54,885.08C1094.42,881.63 1097.3,877.89 1100.18,873.86C1103.06,869.83 1105.93,865.51 1108.81,860.9C1111.69,856.3 1114.57,851.26 1117.45,846.22C1120.33,841.19 1123.93,834.85 1126.08,830.68C1128.24,826.5 1128.68,824.92 1130.4,821.18C1132.13,817.44 1135.44,810.39 1136.45,808.23L1136.45,852.27C1135.44,853.13 1132.13,855.72 1130.4,857.45C1128.68,859.18 1128.24,860.18 1126.08,862.63C1123.93,865.08 1120.33,868.96 1117.45,872.13C1114.57,875.3 1111.69,878.61 1108.81,881.63C1105.93,884.65 1103.06,887.6 1100.18,890.26C1097.3,892.93 1094.42,895.3 1091.54,897.6C1088.66,899.91 1085.79,901.99 1082.91,904.08C1080.03,906.17 1077.15,908.33 1074.27,910.13C1071.39,911.93 1068.51,913.58 1065.64,914.88C1062.76,916.17 1062.2,916.7 1057,917.9C1051.8,919.09 1041.05,921.36 1034.46,922.05C1027.88,922.74 1023.13,921.91 1017.47,922.05C1011.8,922.19 1006.14,922.05 1000.47,922.9C994.81,923.75 989,925.45 983.48,927.15C977.96,928.85 970.02,932.11 967.33,933.1Z" fill="#e01818" fill-opacity="0.21"/>
<path d="M967.33,918.99C972.86,918.94 992.12,918.71 1000.47,918.65C1008.83,918.6 1011.8,918.65 1017.47,918.65C1023.13,918.65 1027.88,919.21 1034.46,918.65C1041.05,918.09 1051.8,916.51 1057,915.31C1062.2,914.1 1062.76,913 1065.64,911.42C1068.51,909.84 1071.39,908.04 1074.27,905.81C1077.15,903.58 1080.03,900.84 1082.91,898.04C1085.79,895.23 1088.66,892.21 1091.54,888.97C1094.42,885.73 1097.3,882.2 1100.18,878.61C1103.06,875.01 1105.93,871.19 1108.81,867.38C1111.69,863.57 1114.57,859.68 1117.45,855.72C1120.33,851.76 1122.92,848.09 1126.08,843.63C1129.25,839.17 1134.72,831.4 1136.45,828.95" fill="none" stroke="#e01818" stroke-width="1.9"/>
<line x1="907.4" y1="920.45" x2="1154.7" y2="920.45" stroke="#000" stroke-width="1.8" stroke-dasharray="4.7 3.64"/>
</g>
<g>
<g fill="none" stroke="#a9a9a9" stroke-width="2.05"><circle cx="1096.84" cy="1201.31" r="3.45"/><circle cx="1091.74" cy="1227.99" r="3.45"/><circle cx="1137.29" cy="1267.59" r="3.45"/><circle cx="1091.91" cy="1291.38" r="3.45"/><circle cx="1121.65" cy="1310.42" r="3.45"/><circle cx="1042.11" cy="1322.82" r="3.45"/><circle cx="1074.4" cy="1340.16" r="3.45"/><circle cx="1091.91" cy="1340.16" r="3.45"/><circle cx="1043.98" cy="1343.56" r="3.45"/><circle cx="1058.26" cy="1344.75" r="3.45"/><circle cx="1051.12" cy="1346.96" r="3.45"/><circle cx="1115.19" cy="1349" r="3.45"/><circle cx="1049.42" cy="1352.91" r="3.45"/><circle cx="1028.01" cy="1355.45" r="3.45"/><circle cx="1042.96" cy="1357.15" r="3.45"/><circle cx="1064.21" cy="1353.76" r="3.45"/><circle cx="1092.25" cy="1353.76" r="3.45"/><circle cx="1087.49" cy="1356.3" r="3.45"/><circle cx="989.09" cy="1359.19" r="3.45"/><circle cx="1008.97" cy="1361.4" r="3.45"/><circle cx="974.13" cy="1363.61" r="3.45"/><circle cx="1096.5" cy="1359.19" r="3.45"/><circle cx="1102.11" cy="1365.65" r="3.45"/><circle cx="1035.31" cy="1372.45" r="3.45"/><circle cx="1089.7" cy="1367.35" r="3.45"/><circle cx="967.33" cy="1366.5" r="3.45"/><circle cx="1005.67" cy="1367.4" r="3.45"/><circle cx="1041.74" cy="1365.81" r="3.45"/><circle cx="1016.46" cy="1364.62" r="3.45"/><circle cx="1012.45" cy="1366.27" r="3.45"/><circle cx="1004.24" cy="1364.79" r="3.45"/><circle cx="1027.1" cy="1363.81" r="3.45"/><circle cx="1101.47" cy="1360.16" r="3.45"/><circle cx="1102.24" cy="1363.34" r="3.45"/><circle cx="1094.23" cy="1364.09" r="3.45"/><circle cx="987.61" cy="1367.02" r="3.45"/><circle cx="1016.91" cy="1366.68" r="3.45"/><circle cx="1091.03" cy="1367.41" r="3.45"/><circle cx="980.32" cy="1368.36" r="3.45"/><circle cx="1071.77" cy="1366.96" r="3.45"/><circle cx="1017.48" cy="1361.65" r="3.45"/><circle cx="1100.12" cy="1367.17" r="3.45"/><circle cx="971.46" cy="1365.52" r="3.45"/><circle cx="1081.02" cy="1361.96" r="3.45"/><circle cx="1023.96" cy="1367.07" r="3.45"/><circle cx="994.71" cy="1366.34" r="3.45"/><circle cx="967.4" cy="1365.74" r="3.45"/><circle cx="1083.87" cy="1360.05" r="3.45"/><circle cx="1047.88" cy="1367.56" r="3.45"/><circle cx="1001.86" cy="1367.33" r="3.45"/><circle cx="1036.37" cy="1364.96" r="3.45"/><circle cx="1092.78" cy="1366.52" r="3.45"/><circle cx="1006.72" cy="1366.29" r="3.45"/><circle cx="1053.37" cy="1366.94" r="3.45"/><circle cx="994.38" cy="1367.5" r="3.45"/><circle cx="1000.99" cy="1366.07" r="3.45"/><circle cx="1076.84" cy="1366.42" r="3.45"/><circle cx="1070.05" cy="1360.04" r="3.45"/><circle cx="1003.51" cy="1368.56" r="3.45"/><circle cx="984.38" cy="1367.01" r="3.45"/><circle cx="985.83" cy="1365.84" r="3.45"/><circle cx="1057.86" cy="1367.41" r="3.45"/><circle cx="1044.01" cy="1365.13" r="3.45"/><circle cx="1014.73" cy="1365.83" r="3.45"/><circle cx="1004.9" cy="1367.44" r="3.45"/><circle cx="1058.33" cy="1366.95" r="3.45"/><circle cx="1069.6" cy="1361.77" r="3.45"/><circle cx="1081.53" cy="1365.95" r="3.45"/><circle cx="1054.77" cy="1367.02" r="3.45"/><circle cx="1004.34" cy="1367.07" r="3.45"/><circle cx="981.88" cy="1367.28" r="3.45"/><circle cx="1072.5" cy="1367.36" r="3.45"/><circle cx="1032.87" cy="1367.23" r="3.45"/><circle cx="1071.22" cy="1366.92" r="3.45"/><circle cx="979.91" cy="1367.15" r="3.45"/><circle cx="1081.43" cy="1367.35" r="3.45"/><circle cx="1023.2" cy="1362.06" r="3.45"/><circle cx="1084.96" cy="1366.61" r="3.45"/><circle cx="1087.5" cy="1367.12" r="3.45"/><circle cx="1043.7" cy="1367.18" r="3.45"/><circle cx="971.32" cy="1368" r="3.45"/><circle cx="1092.59" cy="1362.7" r="3.45"/><circle cx="1041.64" cy="1368.6" r="3.45"/><circle cx="1088.34" cy="1363.51" r="3.45"/></g>
<path d="M967.33,1355.45C970.02,1356.02 977.96,1357.78 983.48,1358.85C989,1359.93 994.81,1361.29 1000.47,1361.91C1006.14,1362.54 1011.8,1362.54 1017.47,1362.59C1023.13,1362.65 1027.88,1362.37 1034.46,1362.25C1041.05,1362.13 1051.8,1362.51 1057,1361.88C1062.2,1361.24 1062.76,1359.79 1065.64,1358.42C1068.51,1357.05 1071.39,1355.61 1074.27,1353.67C1077.15,1351.73 1080.03,1349.28 1082.91,1346.76C1085.79,1344.24 1088.66,1341.65 1091.54,1338.56C1094.42,1335.47 1097.3,1331.87 1100.18,1328.2C1103.06,1324.53 1105.93,1320.64 1108.81,1316.54C1111.69,1312.44 1114.57,1308.05 1117.45,1303.59C1120.33,1299.12 1123.93,1293.37 1126.08,1289.77C1128.24,1286.17 1128.68,1285.16 1130.4,1282C1132.13,1278.83 1135.44,1272.64 1136.45,1270.77L1136.45,1307.9C1135.44,1308.62 1132.13,1310.78 1130.4,1312.22C1128.68,1313.66 1128.24,1314.45 1126.08,1316.54C1123.93,1318.63 1120.33,1322.01 1117.45,1324.74C1114.57,1327.48 1111.69,1330.36 1108.81,1332.95C1105.93,1335.54 1103.06,1337.91 1100.18,1340.29C1097.3,1342.66 1094.42,1344.89 1091.54,1347.2C1088.66,1349.5 1085.79,1352.09 1082.91,1354.1C1080.03,1356.12 1077.15,1357.77 1074.27,1359.28C1071.39,1360.8 1068.51,1362.09 1065.64,1363.17C1062.76,1364.25 1062.2,1364.78 1057,1365.76C1051.8,1366.74 1041.05,1368.45 1034.46,1369.05C1027.88,1369.66 1023.13,1369.11 1017.47,1369.39C1011.8,1369.67 1006.14,1369.82 1000.47,1370.75C994.81,1371.69 989,1373.3 983.48,1375C977.96,1376.7 970.02,1379.96 967.33,1380.95Z" fill="#e01818" fill-opacity="0.21"/>
<path d="M967.33,1367.69C972.86,1367.49 992.12,1366.78 1000.47,1366.5C1008.83,1366.22 1011.8,1366.13 1017.47,1365.99C1023.13,1365.85 1027.88,1366.05 1034.46,1365.65C1041.05,1365.25 1051.8,1364.45 1057,1363.6C1062.2,1362.76 1062.76,1361.8 1065.64,1360.58C1068.51,1359.36 1071.39,1357.99 1074.27,1356.26C1077.15,1354.54 1080.03,1352.52 1082.91,1350.22C1085.79,1347.91 1088.66,1345.25 1091.54,1342.45C1094.42,1339.64 1097.3,1336.54 1100.18,1333.38C1103.06,1330.21 1105.93,1326.97 1108.81,1323.45C1111.69,1319.92 1114.57,1315.96 1117.45,1312.22C1120.33,1308.48 1122.92,1305.17 1126.08,1300.99C1129.25,1296.82 1134.72,1289.48 1136.45,1287.18" fill="none" stroke="#e01818" stroke-width="1.9"/>
<line x1="907.4" y1="1367.5" x2="1154.7" y2="1367.5" stroke="#000" stroke-width="1.8" stroke-dasharray="4.7 3.64"/>
</g>
<g>
<g fill="none" stroke="#a9a9a9" stroke-width="2.05"><circle cx="1352.36" cy="187.15" r="3.45"/><circle cx="1312.08" cy="356.08" r="3.45"/><circle cx="1351.85" cy="391.43" r="3.45"/><circle cx="1362.05" cy="398.23" r="3.45"/><circle cx="1381.08" cy="393.13" r="3.45"/><circle cx="1407.08" cy="412.68" r="3.45"/><circle cx="1283.87" cy="416.93" r="3.45"/><circle cx="1273.67" cy="435.11" r="3.45"/><circle cx="1316.16" cy="435.96" r="3.45"/><circle cx="1326.7" cy="446.5" r="3.45"/><circle cx="1347.09" cy="446.16" r="3.45"/><circle cx="1359.16" cy="449.22" r="3.45"/><circle cx="1326.7" cy="455.51" r="3.45"/><circle cx="1278.77" cy="455.51" r="3.45"/><circle cx="1278.77" cy="460.1" r="3.45"/><circle cx="1272.48" cy="463.15" r="3.45"/><circle cx="1309.7" cy="459.42" r="3.45"/><circle cx="1294.92" cy="460.61" r="3.45"/><circle cx="1367.99" cy="462.81" r="3.45"/><circle cx="1359.5" cy="464" r="3.45"/><circle cx="1363.75" cy="464.85" r="3.45"/><circle cx="1354.4" cy="465.7" r="3.45"/><circle cx="1342.5" cy="465.7" r="3.45"/><circle cx="1347.6" cy="469.1" r="3.45"/><circle cx="1225.23" cy="466.55" r="3.45"/><circle cx="1244.78" cy="465.7" r="3.45"/><circle cx="1237.98" cy="468.25" r="3.45"/><circle cx="1182.75" cy="471.99" r="3.45"/><circle cx="1207.9" cy="472.5" r="3.45"/><circle cx="1220.99" cy="472.5" r="3.45"/><circle cx="1353.89" cy="487.29" r="3.45"/><circle cx="1317.35" cy="479.81" r="3.45"/><circle cx="1334.85" cy="477.6" r="3.45"/><circle cx="1255.83" cy="477.09" r="3.45"/><circle cx="1275.37" cy="477.6" r="3.45"/><circle cx="1254.72" cy="472.86" r="3.45"/><circle cx="1299.2" cy="472.35" r="3.45"/><circle cx="1223.74" cy="472.99" r="3.45"/><circle cx="1340.18" cy="471.08" r="3.45"/><circle cx="1310.68" cy="472.83" r="3.45"/><circle cx="1308.81" cy="473.9" r="3.45"/><circle cx="1341.8" cy="472.8" r="3.45"/><circle cx="1311.58" cy="470.44" r="3.45"/><circle cx="1263.22" cy="474.43" r="3.45"/><circle cx="1262.49" cy="472.49" r="3.45"/><circle cx="1247.22" cy="472.58" r="3.45"/><circle cx="1228.21" cy="472.76" r="3.45"/><circle cx="1324.88" cy="472.25" r="3.45"/><circle cx="1331.81" cy="468.01" r="3.45"/><circle cx="1269.16" cy="472.56" r="3.45"/><circle cx="1254.14" cy="472.59" r="3.45"/><circle cx="1309.97" cy="473.28" r="3.45"/><circle cx="1332.46" cy="474.32" r="3.45"/><circle cx="1340.92" cy="472.66" r="3.45"/><circle cx="1251.65" cy="473.15" r="3.45"/><circle cx="1325.97" cy="471.55" r="3.45"/><circle cx="1330.84" cy="473.32" r="3.45"/><circle cx="1321.42" cy="465.32" r="3.45"/><circle cx="1273.07" cy="474.67" r="3.45"/><circle cx="1253.97" cy="472.91" r="3.45"/><circle cx="1330.3" cy="467.37" r="3.45"/><circle cx="1272.23" cy="473.34" r="3.45"/><circle cx="1278.34" cy="470.95" r="3.45"/><circle cx="1300.13" cy="472.22" r="3.45"/><circle cx="1278.43" cy="472.46" r="3.45"/><circle cx="1330.95" cy="467.32" r="3.45"/><circle cx="1261.6" cy="472.02" r="3.45"/><circle cx="1230.93" cy="471.75" r="3.45"/><circle cx="1301.93" cy="472.94" r="3.45"/><circle cx="1308.86" cy="474.32" r="3.45"/><circle cx="1329.71" cy="469.36" r="3.45"/><circle cx="1317.42" cy="469.76" r="3.45"/><circle cx="1338.69" cy="469.83" r="3.45"/><circle cx="1342.8" cy="467.79" r="3.45"/><circle cx="1293.54" cy="473.25" r="3.45"/><circle cx="1294.14" cy="472.27" r="3.45"/><circle cx="1250.04" cy="473.39" r="3.45"/><circle cx="1269.58" cy="473.24" r="3.45"/><circle cx="1303.55" cy="473.68" r="3.45"/><circle cx="1237.92" cy="471.79" r="3.45"/><circle cx="1315.49" cy="466.51" r="3.45"/><circle cx="1250.94" cy="472.91" r="3.45"/><circle cx="1287.46" cy="473.9" r="3.45"/><circle cx="1345.36" cy="472.44" r="3.45"/><circle cx="1239.5" cy="472.96" r="3.45"/><circle cx="1230.68" cy="472.56" r="3.45"/><circle cx="1287.02" cy="474.29" r="3.45"/><circle cx="1254.86" cy="474.1" r="3.45"/><circle cx="1319.31" cy="473.62" r="3.45"/><circle cx="1222.14" cy="472.33" r="3.45"/><circle cx="1331.94" cy="468.76" r="3.45"/><circle cx="1333.47" cy="468.83" r="3.45"/><circle cx="1326.21" cy="471.49" r="3.45"/></g>
<path d="M1181.9,447.86C1185.58,449.27 1196.06,453.67 1203.99,456.36C1211.92,459.05 1220.99,462.08 1229.48,464C1237.98,465.93 1246.48,467.35 1254.98,467.91C1263.47,468.48 1271.97,468.34 1280.47,467.4C1288.97,466.47 1299.37,463.81 1305.96,462.3C1312.55,460.8 1316.22,459.61 1320,458.38C1323.78,457.15 1325.76,456.29 1328.64,454.92C1331.51,453.55 1334.39,451.9 1337.27,450.17C1340.15,448.45 1343.03,446.57 1345.91,444.56C1348.79,442.54 1351.66,440.46 1354.54,438.08C1357.42,435.71 1360.3,433.05 1363.18,430.31C1366.06,427.58 1368.93,424.7 1371.81,421.68C1374.69,418.65 1377.57,415.49 1380.45,412.18C1383.33,408.87 1386.21,405.41 1389.08,401.81C1391.96,398.22 1394.84,394.55 1397.72,390.59C1400.6,386.63 1404.92,380.15 1406.36,378.07L1406.36,435.49C1404.92,436.07 1400.6,437.87 1397.72,438.95C1394.84,440.03 1391.96,440.96 1389.08,441.97C1386.21,442.98 1383.33,443.98 1380.45,444.99C1377.57,446 1374.69,446.93 1371.81,448.01C1368.93,449.09 1366.06,450.32 1363.18,451.47C1360.3,452.62 1357.42,453.7 1354.54,454.92C1351.66,456.15 1348.79,457.58 1345.91,458.81C1343.03,460.03 1340.15,461.18 1337.27,462.26C1334.39,463.34 1331.51,464.42 1328.64,465.28C1325.76,466.15 1323.78,466.1 1320,467.44C1316.22,468.79 1312.55,472.03 1305.96,473.35C1299.37,474.68 1288.97,474.82 1280.47,475.39C1271.97,475.96 1263.47,475.82 1254.98,476.75C1246.48,477.69 1237.98,478.73 1229.48,481C1220.99,483.27 1211.92,486.81 1203.99,490.35C1196.06,493.89 1185.58,500.26 1181.9,502.24Z" fill="#8b0a0a" fill-opacity="0.2"/>
<path d="M1181.9,475.05C1188.41,474.77 1208.81,473.86 1220.99,473.35C1233.17,472.84 1245.06,472.42 1254.98,471.99C1264.89,471.57 1271.97,471.48 1280.47,470.8C1288.97,470.12 1299.37,469.19 1305.96,467.91C1312.55,466.63 1316.22,464.36 1320,463.13C1323.78,461.9 1325.76,461.54 1328.64,460.54C1331.51,459.53 1334.39,458.38 1337.27,457.08C1340.15,455.79 1343.03,454.35 1345.91,452.76C1348.79,451.18 1351.66,449.38 1354.54,447.58C1357.42,445.78 1360.3,443.91 1363.18,441.97C1366.06,440.03 1368.93,438.01 1371.81,435.92C1374.69,433.84 1377.57,431.68 1380.45,429.45C1383.33,427.22 1386.21,424.91 1389.08,422.54C1391.96,420.16 1394.84,417.65 1397.72,415.2C1400.6,412.75 1404.92,409.08 1406.36,407.86" fill="none" stroke="#8b0a0a" stroke-width="1.9"/>
<line x1="1170.3" y1="473.4" x2="1417.6" y2="473.4" stroke="#000" stroke-width="1.8" stroke-dasharray="4.7 3.64"/>
</g>
<g>
<g fill="none" stroke="#a9a9a9" stroke-width="2.05"><circle cx="1351.85" cy="815.83" r="3.45"/><circle cx="1351.51" cy="820.08" r="3.45"/><circle cx="1362.05" cy="823.48" r="3.45"/><circle cx="1407.08" cy="825.18" r="3.45"/><circle cx="1381.08" cy="843.53" r="3.45"/><circle cx="1316.5" cy="888.91" r="3.45"/><circle cx="1358.31" cy="886.36" r="3.45"/><circle cx="1224.72" cy="897.92" r="3.45"/><circle cx="1244.78" cy="902.51" r="3.45"/><circle cx="1273.67" cy="902" r="3.45"/><circle cx="1283.87" cy="900.81" r="3.45"/><circle cx="1278.77" cy="905.91" r="3.45"/><circle cx="1309.7" cy="905.06" r="3.45"/><circle cx="1327.72" cy="900.81" r="3.45"/><circle cx="1333.15" cy="905.06" r="3.45"/><circle cx="1303.41" cy="907.61" r="3.45"/><circle cx="1326.36" cy="909.3" r="3.45"/><circle cx="1347.6" cy="899.96" r="3.45"/><circle cx="1367.99" cy="905.06" r="3.45"/><circle cx="1354.4" cy="910.15" r="3.45"/><circle cx="1360.35" cy="911" r="3.45"/><circle cx="1363.75" cy="911.85" r="3.45"/><circle cx="1342.5" cy="912.7" r="3.45"/><circle cx="1347.6" cy="916.1" r="3.45"/><circle cx="1353.55" cy="929.7" r="3.45"/><circle cx="1311.91" cy="928.51" r="3.45"/><circle cx="1317.35" cy="927.49" r="3.45"/><circle cx="1278.77" cy="925.11" r="3.45"/><circle cx="1182.75" cy="918.99" r="3.45"/><circle cx="1207.9" cy="918.99" r="3.45"/><circle cx="1220.99" cy="919.5" r="3.45"/><circle cx="1250.73" cy="922.9" r="3.45"/><circle cx="1261.77" cy="922.05" r="3.45"/><circle cx="1254.72" cy="920.01" r="3.45"/><circle cx="1299.2" cy="918.94" r="3.45"/><circle cx="1223.74" cy="919.35" r="3.45"/><circle cx="1340.18" cy="919.07" r="3.45"/><circle cx="1310.68" cy="920.03" r="3.45"/><circle cx="1308.81" cy="912.39" r="3.45"/><circle cx="1341.8" cy="918.53" r="3.45"/><circle cx="1311.58" cy="921.78" r="3.45"/><circle cx="1263.22" cy="919.86" r="3.45"/><circle cx="1262.49" cy="919.63" r="3.45"/><circle cx="1247.22" cy="920.91" r="3.45"/><circle cx="1228.21" cy="920.09" r="3.45"/><circle cx="1324.88" cy="919.67" r="3.45"/><circle cx="1331.81" cy="920.72" r="3.45"/><circle cx="1269.16" cy="917.22" r="3.45"/><circle cx="1254.14" cy="919.9" r="3.45"/><circle cx="1309.97" cy="920.38" r="3.45"/><circle cx="1332.46" cy="916.11" r="3.45"/><circle cx="1340.92" cy="915.53" r="3.45"/><circle cx="1251.65" cy="919.44" r="3.45"/><circle cx="1325.97" cy="915.74" r="3.45"/><circle cx="1330.84" cy="918.91" r="3.45"/><circle cx="1321.42" cy="918.52" r="3.45"/><circle cx="1273.07" cy="920.21" r="3.45"/><circle cx="1253.97" cy="919.44" r="3.45"/><circle cx="1330.3" cy="914.41" r="3.45"/><circle cx="1272.23" cy="920.05" r="3.45"/><circle cx="1278.34" cy="912.9" r="3.45"/><circle cx="1300.13" cy="915.44" r="3.45"/><circle cx="1278.43" cy="919.18" r="3.45"/><circle cx="1330.95" cy="913.81" r="3.45"/><circle cx="1261.6" cy="919.7" r="3.45"/><circle cx="1230.93" cy="919.66" r="3.45"/><circle cx="1301.93" cy="919.56" r="3.45"/><circle cx="1308.86" cy="920.16" r="3.45"/><circle cx="1329.71" cy="919.03" r="3.45"/><circle cx="1317.42" cy="919.86" r="3.45"/><circle cx="1338.69" cy="916.57" r="3.45"/><circle cx="1342.8" cy="915.82" r="3.45"/><circle cx="1293.54" cy="920.66" r="3.45"/><circle cx="1294.14" cy="920.39" r="3.45"/><circle cx="1250.04" cy="920.25" r="3.45"/><circle cx="1269.58" cy="914.43" r="3.45"/><circle cx="1303.55" cy="914.1" r="3.45"/><circle cx="1237.92" cy="920.18" r="3.45"/><circle cx="1315.49" cy="919.78" r="3.45"/><circle cx="1250.94" cy="918.92" r="3.45"/><circle cx="1287.46" cy="914.47" r="3.45"/><circle cx="1345.36" cy="920.38" r="3.45"/><circle cx="1239.5" cy="920.39" r="3.45"/><circle cx="1230.68" cy="919.93" r="3.45"/><circle cx="1287.02" cy="918.39" r="3.45"/><circle cx="1254.86" cy="920.15" r="3.45"/><circle cx="1319.31" cy="920.19" r="3.45"/><circle cx="1222.14" cy="919.45" r="3.45"/><circle cx="1331.94" cy="913.38" r="3.45"/><circle cx="1333.47" cy="918.56" r="3.45"/><circle cx="1326.21" cy="920.12" r="3.45"/></g>
<path d="M1181.9,911C1185.58,911.29 1196.06,912.14 1203.99,912.7C1211.92,913.27 1220.99,914.12 1229.48,914.4C1237.98,914.69 1246.48,914.12 1254.98,914.4C1263.47,914.69 1271.97,915.68 1280.47,916.1C1288.97,916.53 1299.37,917.01 1305.96,916.95C1312.55,916.89 1316.22,916.66 1320,915.74C1323.78,914.82 1325.76,913.08 1328.64,911.42C1331.51,909.77 1334.39,907.9 1337.27,905.81C1340.15,903.72 1343.03,901.42 1345.91,898.9C1348.79,896.38 1351.66,893.65 1354.54,890.7C1357.42,887.75 1360.3,884.58 1363.18,881.2C1366.06,877.81 1368.93,874.22 1371.81,870.4C1374.69,866.59 1377.57,862.49 1380.45,858.31C1383.33,854.14 1386.21,849.82 1389.08,845.36C1391.96,840.9 1394.84,836.72 1397.72,831.54C1400.6,826.36 1404.92,817.15 1406.36,814.27L1406.36,847.95C1404.92,849.1 1400.6,852.27 1397.72,854.86C1394.84,857.45 1391.96,860.62 1389.08,863.49C1386.21,866.37 1383.33,869.25 1380.45,872.13C1377.57,875.01 1374.69,877.89 1371.81,880.77C1368.93,883.64 1366.06,886.67 1363.18,889.4C1360.3,892.14 1357.42,894.65 1354.54,897.17C1351.66,899.69 1348.79,902.21 1345.91,904.51C1343.03,906.82 1340.15,909.05 1337.27,910.99C1334.39,912.93 1331.51,914.73 1328.64,916.17C1325.76,917.61 1323.78,918.36 1320,919.63C1316.22,920.89 1312.55,923.35 1305.96,923.75C1299.37,924.15 1288.97,922.76 1280.47,922.05C1271.97,921.34 1263.47,919.36 1254.98,919.5C1246.48,919.64 1237.98,920.78 1229.48,922.9C1220.99,925.03 1211.92,929.13 1203.99,932.25C1196.06,935.36 1185.58,940.04 1181.9,941.6Z" fill="#8b0a0a" fill-opacity="0.2"/>
<path d="M1181.9,926.3C1185.58,925.59 1196.06,923.47 1203.99,922.05C1211.92,920.63 1220.99,918.71 1229.48,917.8C1237.98,916.9 1246.48,916.41 1254.98,916.61C1263.47,916.81 1271.97,918.37 1280.47,918.99C1288.97,919.62 1299.37,920.61 1305.96,920.35C1312.55,920.1 1316.22,918.59 1320,917.47C1323.78,916.34 1325.76,915.09 1328.64,913.58C1331.51,912.07 1334.39,910.41 1337.27,908.4C1340.15,906.38 1343.03,903.94 1345.91,901.49C1348.79,899.04 1351.66,896.45 1354.54,893.72C1357.42,890.98 1360.3,888.18 1363.18,885.08C1366.06,881.99 1368.93,878.53 1371.81,875.15C1374.69,871.77 1377.57,868.32 1380.45,864.79C1383.33,861.26 1386.21,857.66 1389.08,853.99C1391.96,850.32 1394.84,846.58 1397.72,842.77C1400.6,838.95 1404.92,833.05 1406.36,831.11" fill="none" stroke="#8b0a0a" stroke-width="1.9"/>
<line x1="1170.3" y1="920.45" x2="1417.6" y2="920.45" stroke="#000" stroke-width="1.8" stroke-dasharray="4.7 3.64"/>
</g>
<g>
<g fill="none" stroke="#a9a9a9" stroke-width="2.05"><circle cx="1352.7" cy="1243.8" r="3.45"/><circle cx="1407.08" cy="1278.47" r="3.45"/><circle cx="1351.85" cy="1292.23" r="3.45"/><circle cx="1362.05" cy="1297.16" r="3.45"/><circle cx="1381.08" cy="1325.37" r="3.45"/><circle cx="1273.67" cy="1329.45" r="3.45"/><circle cx="1278.77" cy="1346.62" r="3.45"/><circle cx="1311.91" cy="1345.26" r="3.45"/><circle cx="1316.5" cy="1349.85" r="3.45"/><circle cx="1347.09" cy="1345.26" r="3.45"/><circle cx="1359.16" cy="1347.81" r="3.45"/><circle cx="1367.99" cy="1351.72" r="3.45"/><circle cx="1309.7" cy="1356.81" r="3.45"/><circle cx="1359.5" cy="1354.61" r="3.45"/><circle cx="1363.75" cy="1359.19" r="3.45"/><circle cx="1354.4" cy="1358.51" r="3.45"/><circle cx="1342.5" cy="1359.7" r="3.45"/><circle cx="1244.78" cy="1358.85" r="3.45"/><circle cx="1264.32" cy="1358.51" r="3.45"/><circle cx="1283.87" cy="1358.51" r="3.45"/><circle cx="1293.22" cy="1358.51" r="3.45"/><circle cx="1303.41" cy="1359.19" r="3.45"/><circle cx="1224.72" cy="1363.1" r="3.45"/><circle cx="1333.15" cy="1357.15" r="3.45"/><circle cx="1353.55" cy="1385.71" r="3.45"/><circle cx="1317.35" cy="1374.15" r="3.45"/><circle cx="1334.85" cy="1375.51" r="3.45"/><circle cx="1303.41" cy="1372.11" r="3.45"/><circle cx="1261.77" cy="1372.11" r="3.45"/><circle cx="1289.82" cy="1370.75" r="3.45"/><circle cx="1347.6" cy="1363.95" r="3.45"/><circle cx="1182.75" cy="1366.5" r="3.45"/><circle cx="1207.9" cy="1365.99" r="3.45"/><circle cx="1254.72" cy="1367.33" r="3.45"/><circle cx="1299.2" cy="1366.62" r="3.45"/><circle cx="1223.74" cy="1365.52" r="3.45"/><circle cx="1340.18" cy="1365.52" r="3.45"/><circle cx="1310.68" cy="1367.3" r="3.45"/><circle cx="1308.81" cy="1367.67" r="3.45"/><circle cx="1341.8" cy="1365.77" r="3.45"/><circle cx="1311.58" cy="1367.4" r="3.45"/><circle cx="1263.22" cy="1367.41" r="3.45"/><circle cx="1262.49" cy="1365.24" r="3.45"/><circle cx="1247.22" cy="1365.53" r="3.45"/><circle cx="1228.21" cy="1367.47" r="3.45"/><circle cx="1324.88" cy="1361.55" r="3.45"/><circle cx="1331.81" cy="1369.02" r="3.45"/><circle cx="1269.16" cy="1365.55" r="3.45"/><circle cx="1254.14" cy="1367.36" r="3.45"/><circle cx="1309.97" cy="1361.48" r="3.45"/><circle cx="1332.46" cy="1368.04" r="3.45"/><circle cx="1340.92" cy="1359.61" r="3.45"/><circle cx="1251.65" cy="1366.24" r="3.45"/><circle cx="1325.97" cy="1367.15" r="3.45"/><circle cx="1330.84" cy="1364.06" r="3.45"/><circle cx="1321.42" cy="1366.48" r="3.45"/><circle cx="1273.07" cy="1366.37" r="3.45"/><circle cx="1253.97" cy="1366.29" r="3.45"/><circle cx="1330.3" cy="1367.12" r="3.45"/><circle cx="1272.23" cy="1359.36" r="3.45"/><circle cx="1278.34" cy="1367.49" r="3.45"/><circle cx="1300.13" cy="1367.21" r="3.45"/><circle cx="1278.43" cy="1360.62" r="3.45"/><circle cx="1330.95" cy="1361.84" r="3.45"/><circle cx="1261.6" cy="1366.49" r="3.45"/><circle cx="1230.93" cy="1367.13" r="3.45"/><circle cx="1301.93" cy="1367.5" r="3.45"/><circle cx="1308.86" cy="1366.8" r="3.45"/><circle cx="1329.71" cy="1367.24" r="3.45"/><circle cx="1317.42" cy="1366.3" r="3.45"/><circle cx="1338.69" cy="1362.37" r="3.45"/><circle cx="1342.8" cy="1360.09" r="3.45"/><circle cx="1293.54" cy="1366.27" r="3.45"/><circle cx="1294.14" cy="1367.25" r="3.45"/><circle cx="1250.04" cy="1366.77" r="3.45"/><circle cx="1269.58" cy="1366.09" r="3.45"/><circle cx="1303.55" cy="1365.87" r="3.45"/><circle cx="1237.92" cy="1365.85" r="3.45"/><circle cx="1315.49" cy="1368.08" r="3.45"/><circle cx="1250.94" cy="1365.82" r="3.45"/><circle cx="1287.46" cy="1366.66" r="3.45"/><circle cx="1345.36" cy="1367.07" r="3.45"/><circle cx="1239.5" cy="1367.41" r="3.45"/><circle cx="1230.68" cy="1364.02" r="3.45"/><circle cx="1287.02" cy="1366.92" r="3.45"/><circle cx="1254.86" cy="1366.14" r="3.45"/><circle cx="1319.31" cy="1366.4" r="3.45"/><circle cx="1222.14" cy="1367.23" r="3.45"/><circle cx="1331.94" cy="1365.86" r="3.45"/><circle cx="1333.47" cy="1366.06" r="3.45"/><circle cx="1326.21" cy="1362.31" r="3.45"/></g>
<path d="M1181.9,1360.55C1185.58,1360.61 1196.06,1360.75 1203.99,1360.89C1211.92,1361.03 1220.99,1361.32 1229.48,1361.4C1237.98,1361.49 1246.48,1361.12 1254.98,1361.4C1263.47,1361.69 1271.97,1362.73 1280.47,1363.1C1288.97,1363.47 1299.37,1363.53 1305.96,1363.61C1312.55,1363.7 1316.22,1364.11 1320,1363.6C1323.78,1363.1 1325.76,1361.88 1328.64,1360.58C1331.51,1359.28 1334.39,1357.63 1337.27,1355.83C1340.15,1354.03 1343.03,1351.94 1345.91,1349.79C1348.79,1347.63 1351.66,1345.4 1354.54,1342.88C1357.42,1340.36 1360.3,1337.48 1363.18,1334.67C1366.06,1331.87 1368.93,1329.06 1371.81,1326.04C1374.69,1323.02 1377.57,1319.85 1380.45,1316.54C1383.33,1313.23 1386.21,1309.77 1389.08,1306.18C1391.96,1302.58 1394.84,1299.12 1397.72,1294.95C1400.6,1290.78 1404.92,1283.44 1406.36,1281.13L1406.36,1311.36C1404.92,1312.08 1400.6,1313.95 1397.72,1315.68C1394.84,1317.4 1391.96,1319.63 1389.08,1321.72C1386.21,1323.81 1383.33,1325.97 1380.45,1328.2C1377.57,1330.43 1374.69,1332.8 1371.81,1335.11C1368.93,1337.41 1366.06,1339.78 1363.18,1342.01C1360.3,1344.24 1357.42,1346.4 1354.54,1348.49C1351.66,1350.58 1348.79,1352.66 1345.91,1354.54C1343.03,1356.41 1340.15,1358.21 1337.27,1359.72C1334.39,1361.23 1331.51,1362.52 1328.64,1363.6C1325.76,1364.68 1323.78,1365 1320,1366.19C1316.22,1367.38 1312.55,1370.27 1305.96,1370.75C1299.37,1371.23 1288.97,1369.76 1280.47,1369.05C1271.97,1368.34 1263.47,1366.36 1254.98,1366.5C1246.48,1366.64 1237.98,1367.63 1229.48,1369.9C1220.99,1372.17 1211.92,1376.7 1203.99,1380.1C1196.06,1383.5 1185.58,1388.6 1181.9,1390.3Z" fill="#8b0a0a" fill-opacity="0.2"/>
<path d="M1181.9,1375C1185.58,1374.23 1196.06,1372.03 1203.99,1370.41C1211.92,1368.8 1220.99,1366.39 1229.48,1365.31C1237.98,1364.24 1246.48,1363.84 1254.98,1363.95C1263.47,1364.07 1271.97,1365.43 1280.47,1365.99C1288.97,1366.56 1299.37,1367.53 1305.96,1367.35C1312.55,1367.17 1316.22,1365.81 1320,1364.9C1323.78,1363.99 1325.76,1363.1 1328.64,1361.88C1331.51,1360.65 1334.39,1359.21 1337.27,1357.56C1340.15,1355.9 1343.03,1353.96 1345.91,1351.94C1348.79,1349.93 1351.66,1347.77 1354.54,1345.47C1357.42,1343.17 1360.3,1340.65 1363.18,1338.13C1366.06,1335.61 1368.93,1333.09 1371.81,1330.36C1374.69,1327.62 1377.57,1324.6 1380.45,1321.72C1383.33,1318.84 1386.21,1316.11 1389.08,1313.08C1391.96,1310.06 1394.84,1306.68 1397.72,1303.59C1400.6,1300.49 1404.92,1296.03 1406.36,1294.52" fill="none" stroke="#8b0a0a" stroke-width="1.9"/>
<line x1="1170.3" y1="1367.5" x2="1417.6" y2="1367.5" stroke="#000" stroke-width="1.8" stroke-dasharray="4.7 3.64"/>
</g>
<g fill="none" stroke="#000" stroke-width="2.1">
<rect x="119.4" y="42.1" width="246.6" height="52.3"/>
<line x1="119.4" y1="1419.3" x2="366" y2="1419.3"/>
<line x1="184.92" y1="1419.3" x2="184.92" y2="1427.6"/>
<line x1="254.4" y1="1419.3" x2="254.4" y2="1427.6"/>
<line x1="323.88" y1="1419.3" x2="323.88" y2="1427.6"/>
<rect x="382.3" y="42.1" width="246.6" height="52.3"/>
<line x1="382.3" y1="1419.3" x2="628.9" y2="1419.3"/>
<line x1="447.82" y1="1419.3" x2="447.82" y2="1427.6"/>
<line x1="517.3" y1="1419.3" x2="517.3" y2="1427.6"/>
<line x1="586.78" y1="1419.3" x2="586.78" y2="1427.6"/>
<rect x="645.2" y="42.1" width="246.6" height="52.3"/>
<line x1="645.2" y1="1419.3" x2="891.8" y2="1419.3"/>
<line x1="710.72" y1="1419.3" x2="710.72" y2="1427.6"/>
<line x1="780.2" y1="1419.3" x2="780.2" y2="1427.6"/>
<line x1="849.68" y1="1419.3" x2="849.68" y2="1427.6"/>
<rect x="908.1" y="42.1" width="246.6" height="52.3"/>
<line x1="908.1" y1="1419.3" x2="1154.7" y2="1419.3"/>
<line x1="973.62" y1="1419.3" x2="973.62" y2="1427.6"/>
<line x1="1043.1" y1="1419.3" x2="1043.1" y2="1427.6"/>
<line x1="1112.58" y1="1419.3" x2="1112.58" y2="1427.6"/>
<rect x="1171" y="42.1" width="246.6" height="52.3"/>
<line x1="1171" y1="1419.3" x2="1417.6" y2="1419.3"/>
<line x1="1236.52" y1="1419.3" x2="1236.52" y2="1427.6"/>
<line x1="1306" y1="1419.3" x2="1306" y2="1427.6"/>
<line x1="1375.48" y1="1419.3" x2="1375.48" y2="1427.6"/>
<rect x="1417.6" y="94.4" width="52.6" height="430.6"/>
<line x1="119.3" y1="94.4" x2="119.3" y2="525" stroke-linecap="round"/>
<line x1="111.3" y1="473.4" x2="119.3" y2="473.4"/>
<line x1="111.3" y1="368.5" x2="119.3" y2="368.5"/>
<line x1="111.3" y1="263.6" x2="119.3" y2="263.6"/>
<line x1="111.3" y1="158.7" x2="119.3" y2="158.7"/>
<rect x="1417.6" y="541.5" width="52.6" height="430.6"/>
<line x1="119.3" y1="541.5" x2="119.3" y2="972.1" stroke-linecap="round"/>
<line x1="111.3" y1="920.45" x2="119.3" y2="920.45"/>
<line x1="111.3" y1="815.55" x2="119.3" y2="815.55"/>
<line x1="111.3" y1="710.65" x2="119.3" y2="710.65"/>
<line x1="111.3" y1="605.75" x2="119.3" y2="605.75"/>
<rect x="1417.6" y="988.6" width="52.6" height="430.6"/>
<line x1="119.3" y1="988.6" x2="119.3" y2="1419.2" stroke-linecap="round"/>
<line x1="111.3" y1="1367.5" x2="119.3" y2="1367.5"/>
<line x1="111.3" y1="1262.6" x2="119.3" y2="1262.6"/>
<line x1="111.3" y1="1157.7" x2="119.3" y2="1157.7"/>
<line x1="111.3" y1="1052.8" x2="119.3" y2="1052.8"/>
</g>
<text transform="translate(207.5,77.6) scale(0.8261,1)" font-size="35" fill="#000" >SSP1</text>
<text transform="translate(471.43,77.6) scale(0.8072,1)" font-size="35" fill="#000" >SSP2</text>
<text transform="translate(734.43,77.6) scale(0.8047,1)" font-size="35" fill="#000" >SSP3</text>
<text transform="translate(996.51,77.6) scale(0.8183,1)" font-size="35" fill="#000" >SSP4</text>
<text transform="translate(1259.73,77.6) scale(0.8086,1)" font-size="35" fill="#000" >SSP5</text>
<text transform="translate(171.72,22.8) scale(0.8892,1)" font-size="29.4" fill="#000" >Sustainability</text>
<text transform="translate(396.55,22.8) scale(0.9286,1)" font-size="29.4" fill="#000" >Middle-of-the-road</text>
<text transform="translate(682.09,22.8) scale(0.8694,1)" font-size="29.4" fill="#000" >Regional rivalry</text>
<text transform="translate(971.31,22.8) scale(0.9143,1)" font-size="29.4" fill="#000" >Inequality</text>
<text transform="translate(1140.44,22.8) scale(0.8892,1)" font-size="29.4" fill="#000" >Fossil-fuelled development</text>
<text transform="translate(52.34,482.6) scale(1.0253,1)" font-size="25.8" fill="#000" >0.00</text>
<text transform="translate(52.34,377.7) scale(1.0267,1)" font-size="25.8" fill="#000" >0.25</text>
<text transform="translate(52.34,272.8) scale(1.0253,1)" font-size="25.8" fill="#000" >0.50</text>
<text transform="translate(52.34,167.9) scale(1.0267,1)" font-size="25.8" fill="#000" >0.75</text>
<text transform="translate(52.34,929.65) scale(1.0253,1)" font-size="25.8" fill="#000" >0.00</text>
<text transform="translate(52.34,824.75) scale(1.0267,1)" font-size="25.8" fill="#000" >0.25</text>
<text transform="translate(52.34,719.85) scale(1.0253,1)" font-size="25.8" fill="#000" >0.50</text>
<text transform="translate(52.34,614.95) scale(1.0267,1)" font-size="25.8" fill="#000" >0.75</text>
<text transform="translate(52.34,1376.7) scale(1.0253,1)" font-size="25.8" fill="#000" >0.00</text>
<text transform="translate(52.34,1271.8) scale(1.0267,1)" font-size="25.8" fill="#000" >0.25</text>
<text transform="translate(52.34,1166.9) scale(1.0253,1)" font-size="25.8" fill="#000" >0.50</text>
<text transform="translate(52.34,1062) scale(1.0267,1)" font-size="25.8" fill="#000" >0.75</text>
<text transform="translate(168.98,1453.2) scale(1.0397,1)" font-size="25.8" fill="#000" >−4</text>
<text transform="translate(246.11,1453.2) scale(1.1526,1)" font-size="25.8" fill="#000" >0</text>
<text transform="translate(316.47,1453.2) scale(1.0515,1)" font-size="25.8" fill="#000" >4</text>
<text transform="translate(431.88,1453.2) scale(1.0397,1)" font-size="25.8" fill="#000" >−4</text>
<text transform="translate(509.01,1453.2) scale(1.1526,1)" font-size="25.8" fill="#000" >0</text>
<text transform="translate(579.37,1453.2) scale(1.0515,1)" font-size="25.8" fill="#000" >4</text>
<text transform="translate(694.78,1453.2) scale(1.0397,1)" font-size="25.8" fill="#000" >−4</text>
<text transform="translate(771.91,1453.2) scale(1.1526,1)" font-size="25.8" fill="#000" >0</text>
<text transform="translate(842.27,1453.2) scale(1.0515,1)" font-size="25.8" fill="#000" >4</text>
<text transform="translate(957.68,1453.2) scale(1.0397,1)" font-size="25.8" fill="#000" >−4</text>
<text transform="translate(1034.81,1453.2) scale(1.1526,1)" font-size="25.8" fill="#000" >0</text>
<text transform="translate(1105.17,1453.2) scale(1.0515,1)" font-size="25.8" fill="#000" >4</text>
<text transform="translate(1220.58,1453.2) scale(1.0397,1)" font-size="25.8" fill="#000" >−4</text>
<text transform="translate(1297.71,1453.2) scale(1.1526,1)" font-size="25.8" fill="#000" >0</text>
<text transform="translate(1368.07,1453.2) scale(1.0515,1)" font-size="25.8" fill="#000" >4</text>
<text transform="translate(1431,221.12) rotate(90) scale(0.8473,1)" font-size="35">GFDL-CM3</text>
<text transform="translate(1431,658.89) rotate(90) scale(0.8334,1)" font-size="35">HadGEM2-ES</text>
<text transform="translate(1431,1066.94) rotate(90) scale(0.8876,1)" font-size="35">MIROC-ESM-CHEM</text>
<text transform="translate(626.07,1495.5) scale(0.8828,1)" font-size="37.5" fill="#000" >ln(CSCC)</text>
<text transform="translate(778.07,1495.5) scale(1.1882,1)" font-size="37.5" fill="#000" >[</text>
<text transform="translate(790.36,1495.5) scale(0.9779,1)" font-size="37.5" fill="#000" >US$/tCO</text>
<text transform="translate(936.63,1503.7) scale(1.0288,1)" font-size="18.8" fill="#000" >2</text>
<text transform="translate(949.18,1495.5) scale(1.1200,1)" font-size="37.5" fill="#000" >]</text>
<text transform="translate(28,1414.23) rotate(-90) scale(1.0582,1)" font-size="37">Productivity</text>
<text transform="translate(28,1202.24) rotate(-90) scale(1.0408,1)" font-size="37">conservation</text>
<text transform="translate(28,972.05) rotate(-90) scale(0.9222,1)" font-size="37">at</text>
<text transform="translate(28,930.63) rotate(-90) scale(1.1379,1)" font-size="37">the</text>
<text transform="translate(28,864.39) rotate(-90) scale(1.0752,1)" font-size="37">country</text>
<text transform="translate(28,723.78) rotate(-90) scale(0.9604,1)" font-size="37">scale</text>
<text transform="translate(28,627.52) rotate(-90) scale(0.9032,1)" font-size="37">[</text>
<text transform="translate(28,618.18) rotate(-90) scale(1.0296,1.1000)" font-size="37">(</text>
<text transform="translate(28,605.5) rotate(-90) scale(0.9020,1)" font-size="37">ΔP</text>
<text transform="translate(37,559.36) rotate(-90) scale(0.8541,1)" font-size="24.5">baseline</text>
<text transform="translate(28,477.01) rotate(-90) scale(0.7077,1)" font-size="37">−</text>
<text transform="translate(28,458.7) rotate(-90) scale(0.9020,1)" font-size="37">ΔP</text>
<text transform="translate(37,412.19) rotate(-90) scale(0.9615,1)" font-size="24.5">mitigation</text>
<text transform="translate(28,311.2) rotate(-90) scale(1.0914,1.1000)" font-size="37">)</text>
<text transform="translate(28,290.1) rotate(-90) scale(0.9657,1)" font-size="37">×</text>
<text transform="translate(28,261.38) rotate(-90) scale(1.0660,1)" font-size="37">area;</text>
<text transform="translate(28,163.54) rotate(-90) scale(0.8980,1)" font-size="37">Pg</text>
<text transform="translate(28,113.17) rotate(-90) scale(0.8503,1)" font-size="37">C</text>
<text transform="translate(28,81.11) rotate(-90) scale(1.1441,1)" font-size="37">yr</text>
<text transform="translate(14.8,44.74) rotate(-90) scale(0.6715,1)" font-size="22">−1</text>
<text transform="translate(28,26.85) rotate(-90) scale(0.8919,1)" font-size="37">]</text>
</svg></body></html>
